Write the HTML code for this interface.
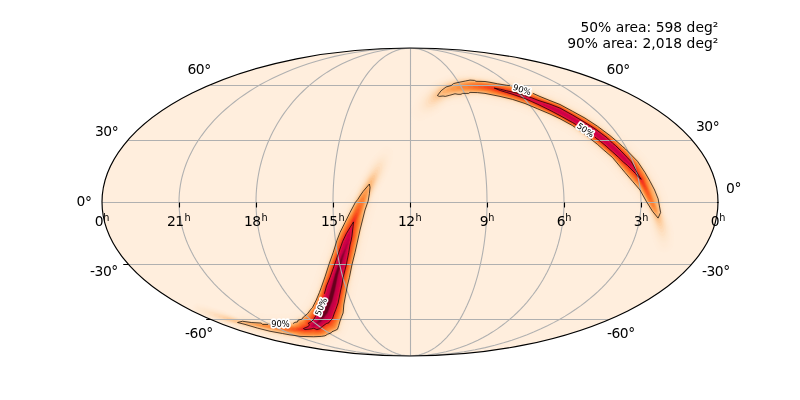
<!DOCTYPE html>
<html><head><meta charset="utf-8"><title>sky map</title>
<style>
html,body{margin:0;padding:0;background:#fff;}
body{width:800px;height:400px;overflow:hidden;}
svg{display:block;}
text{font-family:"DejaVu Sans","Liberation Sans",sans-serif;font-size:13.89px;fill:#000;}
.cl text,.cl{font-size:8.33px;}
</style></head><body>
<svg width="800" height="400" viewBox="0 0 800 400">
<defs>
<clipPath id="sky"><ellipse cx="410" cy="202" rx="308" ry="154"/></clipPath>
<filter id="sm" x="-5%" y="-5%" width="110%" height="110%"><feGaussianBlur stdDeviation="0.4"/></filter>
</defs>
<rect width="800" height="400" fill="#fff"/>
<ellipse cx="410" cy="202" rx="308" ry="154" fill="#ffeedd"/>
<g clip-path="url(#sky)">
<g filter="url(#sm)">
<path d="M665.25 252.51 L662.5 252.48 L659.75 251.6 L657.5 250.06 L655.81 248 L653.09 241.5 L651.34 236.25 L649.65 230 L647.68 221.5 L643.28 215.5 L637.53 206.25 L631.96 196.25 L631.08 195 L604.92 164.25 L591.09 152.25 L579.86 143.25 L567 133.94 L557 128.53 L547 123.66 L520.95 112.75 L510 109.29 L498.61 106.5 L483.62 103.5 L476.25 102.51 L473.25 102.5 L470 103.35 L465.25 103.52 L462 104.19 L455.5 104.15 L447.75 106.23 L446.58 106.75 L445.25 107.66 L439 112.85 L433.5 116.08 L429.25 117.81 L426.39 118.5 L424.25 119.88 L422.5 120.6 L420.25 120.95 L417.75 120.67 L415.11 119.5 L413 117.58 L412.12 116.25 L411.57 115 L411.05 112.25 L411.17 110.5 L411.66 108.75 L413.5 105.61 L414.11 103 L414.91 101 L417.13 97.25 L420.75 92.3 L425.5 87.56 L431 83.15 L434 80.96 L435.75 79.93 L444.75 76.12 L451.75 73.6 L467.75 70.19 L471.75 70.06 L476.25 70.64 L478.75 71.23 L486.5 71.56 L489 71.9 L506.5 75.02 L512 75.69 L514.5 76.4 L536.75 84.17 L543.97 87.25 L563 94.87 L567.5 97.1 L590.25 109.44 L603.75 118.36 L615.75 127.29 L620.75 131.45 L632 141.39 L638.5 147.9 L645.71 155.5 L653.56 167.25 L659.15 177 L664.13 187 L667.71 196.25 L670.42 211 L670.42 213.75 L669.85 217 L672.89 226.25 L674.09 234.5 L674.09 238 L673.59 241.75 L673.54 244 L673.19 245.75 L672.6 247.25 L671.28 249.25 L669.5 250.86 L667.5 251.93 L665.25 252.51Z" fill="#ffeddb"/>
<path d="M664.75 250.52 L662.5 250.4 L660.5 249.69 L658.75 248.43 L657.44 246.75 L656.35 244 L654.59 240.75 L652.63 235.5 L650.63 228.75 L648.5 219.37 L648.01 218 L645.61 214.75 L640.29 206.25 L633.98 195 L632.91 193.5 L606.75 162.72 L592.7 150.5 L581.46 141.5 L568.25 131.93 L558.23 126.5 L547.96 121.5 L521.68 110.5 L510.61 107 L499.25 104.22 L484 101.17 L476.5 100.15 L472.75 100.14 L469.75 100.99 L465 101.14 L461.75 101.83 L455.75 101.87 L451.94 102.75 L447.61 104.25 L444.11 106.75 L438.25 111.41 L433 114.39 L428 116.16 L424.25 116.64 L422.75 117.5 L421.5 117.97 L420.25 118.15 L418.75 118.02 L416.79 117.25 L415.25 115.91 L414.18 114 L413.85 112 L414.18 110 L415.44 107.5 L415.62 105 L416.15 103 L416.78 101.5 L418.84 97.75 L422.06 93.25 L427 88.12 L434 82.57 L436.5 81.02 L445.75 77.12 L456.25 74.36 L458.5 73.93 L463.52 73.5 L468.5 72.47 L471.5 72.42 L475.75 72.96 L478.25 73.59 L486.25 73.92 L488.5 74.22 L506.25 77.38 L511.5 78.01 L513.75 78.64 L536 86.42 L542.6 89.25 L562 97.02 L566.25 99.12 L588.75 111.29 L602.25 120.2 L614.25 129.12 L619.25 133.28 L630.26 143 L636.75 149.49 L643.87 157 L651.56 168.5 L657 178 L661.87 187.75 L665.33 196.5 L668.03 211 L667.97 215.5 L669.61 220 L671.31 225.5 L672.2 230.75 L672.57 235 L672.47 237.5 L672.16 239.75 L671.59 242 L671.45 244.25 L671.03 245.75 L670 247.59 L668.5 249.07 L666.75 250.03 L664.75 250.52Z" fill="#ffecda"/>
<path d="M664.75 249 L663.5 249.03 L662.25 248.79 L661 248.25 L659.96 247.5 L658.9 246.25 L657.92 244 L656.09 241.25 L653.91 236.25 L651.92 230.25 L648.5 216.71 L641.39 205.5 L635 194.09 L634 192.72 L607.67 161.75 L593.5 149.43 L583.5 141.42 L569 130.82 L559.19 125.5 L548.43 120.25 L522.14 109.25 L511.08 105.75 L499.25 102.86 L484.25 99.86 L476.75 98.83 L472.25 98.83 L469.25 99.72 L464.5 99.83 L462.25 100.44 L457.75 100.67 L452.87 101.5 L447.5 103.29 L443.25 106.25 L437.75 110.48 L435 112.12 L432.25 113.47 L426.75 115.06 L425 115.15 L422.75 114.89 L420.75 115.54 L419.25 115.54 L418 115.02 L417.17 114.25 L416.52 113 L416.39 111.75 L417.09 109.5 L416.83 106.5 L417.21 104 L417.85 102.25 L420.16 97.75 L423.21 93.5 L427.93 88.5 L434.75 83.06 L437 81.7 L446 77.89 L457.25 74.94 L459 74.68 L465.5 74.31 L469 73.75 L471.5 73.75 L475.75 74.31 L478 74.92 L486 75.24 L488.5 75.56 L506.25 78.73 L511.25 79.31 L513.25 79.88 L535.5 87.65 L542.14 90.5 L561.5 98.25 L565.75 100.36 L588 112.39 L601.5 121.29 L613.5 130.22 L618.34 134.25 L629.38 144 L642.77 157.75 L650.46 169.25 L655.75 178.5 L660.64 188.25 L664.02 196.75 L666.65 210.75 L666.83 214.5 L669.37 221.75 L670.62 226.25 L670.97 228.25 L671.38 232.25 L671.48 236.25 L671.13 239 L670.12 242.25 L669.79 244.75 L669.1 246.25 L668 247.53 L666.5 248.51 L664.75 249Z" fill="#ffecd9"/>
<path d="M665.25 247.52 L664.25 247.69 L663 247.59 L662 247.25 L661 246.61 L660.2 245.75 L659.18 243.75 L657.67 242 L656.72 240.5 L654.63 236 L652.43 229.75 L648.75 215.88 L647.75 214 L641.39 203.75 L635.7 193.5 L634.58 192 L608.25 161.05 L594.09 148.75 L582.85 139.75 L569.39 130 L559.21 124.5 L548.75 119.41 L522.73 108.5 L511.25 104.86 L499.56 102 L484.5 98.98 L476.75 97.92 L472 97.95 L469.25 98.81 L464.25 98.99 L462 99.56 L458.75 99.84 L452.5 100.97 L447 102.83 L437.5 109.68 L432.75 112.28 L430.5 113.14 L427 113.93 L425.25 114.07 L423.75 113.88 L421.75 113.12 L420 111.88 L418.75 109.99 L418.02 107.75 L417.97 105.75 L418.38 103.75 L419.81 100.25 L421.17 97.75 L424.03 93.75 L428.41 89 L435 83.66 L437.5 82.16 L446.25 78.45 L457.25 75.54 L459 75.27 L469.25 74.6 L471.5 74.64 L475.5 75.17 L478.14 75.75 L482.5 76.09 L486 76.14 L488.25 76.43 L505.75 79.56 L511 80.19 L512.75 80.66 L535 88.42 L541.6 91.25 L561.25 99.12 L565.25 101.11 L587.5 113.14 L601 122.04 L612.75 130.78 L617.75 134.93 L628.5 144.4 L641.82 158 L649.86 170 L655.14 179.25 L659.64 188.25 L663.07 196.75 L665.57 209.75 L666 213.75 L668.15 219.75 L670.1 227 L670.53 230.75 L670.72 235 L670.25 238.75 L669.7 240.5 L668.88 242.25 L668.52 244.25 L668.12 245.25 L667 246.61 L665.25 247.52Z" fill="#ffebd7"/>
<path d="M664.25 246.27 L663 246.12 L661.75 245.39 L660.45 243.5 L658.34 241.5 L657.05 239.5 L655.11 235.5 L652.9 229.5 L651.12 223.5 L649.48 216.75 L648.5 214.32 L647.25 211.92 L641.87 203.25 L636.25 193.11 L635.23 191.75 L620.63 174.75 L608.9 160.75 L593.25 147.21 L582.32 138.5 L569.85 129.5 L559.69 124 L548.92 118.75 L523.25 107.98 L511.53 104.25 L499.5 101.31 L484.25 98.26 L477 97.28 L471.75 97.38 L469.25 98.14 L464.25 98.44 L452.34 100.5 L446.75 102.37 L437.5 108.9 L432.75 111.48 L429.25 112.63 L426 113.09 L424 112.95 L422.25 112.28 L420.63 111 L419.5 109.32 L418.96 107.5 L418.92 105.75 L419.26 104 L420.42 100.75 L422.01 97.75 L424.66 94 L428.75 89.47 L435.25 84.11 L437.5 82.72 L446.5 78.88 L457.5 75.97 L460.25 75.66 L471 75.19 L482.5 76.74 L486 76.8 L488.25 77.11 L505.83 80.25 L511 80.86 L512.75 81.36 L534.75 89.04 L541.67 92 L560.75 99.63 L565 101.73 L587.25 113.77 L600.5 122.51 L612.5 131.43 L617.39 135.5 L628 144.85 L641.37 158.5 L649.38 170.5 L654.52 179.5 L658.9 188.25 L662.37 196.75 L663.35 201.25 L665.37 213.25 L667.67 219.75 L669.53 227 L669.92 230.75 L670.02 235 L669.44 238.75 L668.78 240.5 L667.43 242.75 L666.75 244.79 L665.75 245.77 L664.25 246.27Z" fill="#ffead6"/>
<path d="M664.5 243.26 L663.25 243.33 L660.5 242.18 L659 240.84 L657.58 238.75 L655.63 235 L653.59 229.75 L651.61 223.5 L649.81 216.5 L648 212.19 L642.45 203 L636.78 192.75 L635.5 191.08 L621.25 174.5 L609.3 160.25 L594.92 147.75 L584.93 139.75 L570.24 129 L560.1 123.5 L549.34 118.25 L523.07 107.25 L511.75 103.66 L499.9 100.75 L484.95 97.75 L479 96.89 L476.5 96.65 L471.5 96.89 L469 97.54 L463.77 98 L452.5 99.92 L446.5 101.87 L437.25 108.23 L432.75 110.62 L429 111.79 L426 112.01 L424.5 111.89 L422.75 111.25 L421.49 110.25 L420.5 108.75 L420.03 107 L420.09 105 L420.78 102.25 L421.67 100 L422.9 97.75 L425.54 94 L429.25 89.82 L435.5 84.6 L437.75 83.2 L446.75 79.34 L457.5 76.48 L461 76.1 L470.75 75.67 L482.75 77.32 L486 77.44 L488 77.71 L498 79.58 L507 81.08 L510.75 81.46 L512.25 81.86 L534.5 89.62 L541.23 92.5 L560.75 100.32 L564.75 102.31 L587 114.35 L600.25 123.1 L612 131.84 L617 136 L627.75 145.47 L640.75 158.75 L648.65 170.5 L653.94 179.75 L658.33 188.5 L661.78 197 L662.25 198.75 L664.73 212.75 L667.16 219.75 L668.57 225.25 L669.05 227.75 L669.29 231.25 L669.25 235.25 L668.94 237.25 L668.32 239.25 L667.5 240.76 L666.25 242.08 L664.5 243.26Z" fill="#feead4"/>
<path d="M663.5 242.01 L661.75 241.73 L660 240.62 L658.75 239.18 L656.8 236 L653.57 228.25 L651.67 222.25 L650.15 216.5 L648 211.32 L647 209.4 L642.87 202.75 L637.2 192.5 L636 190.92 L621.5 174.05 L609.75 159.99 L595.08 147.25 L583.84 138.25 L570.36 128.5 L560.19 123 L549.42 117.75 L524 107.07 L512 103.22 L499.5 100.16 L484.5 97.17 L477.25 96.23 L471.25 96.53 L469 97.04 L461.25 97.94 L452.5 99.46 L446.72 101.25 L441.75 104.38 L437.5 107.36 L434.75 108.93 L430.75 110.59 L429 110.99 L427.5 111.09 L425 110.89 L423.28 110.25 L422 109.09 L421.23 107.5 L421.02 105.75 L421.46 102.75 L422.35 100.25 L423.68 97.75 L426.09 94.25 L429.55 90.25 L435.75 84.99 L438 83.59 L446.75 79.81 L457.75 76.86 L464.25 76.31 L471 76.08 L480.75 77.31 L483.25 77.79 L488 78.2 L498 80.08 L507 81.57 L510.75 81.96 L512.25 82.37 L534.5 90.14 L541.16 93 L560.5 100.74 L564.25 102.59 L586.5 114.62 L599.75 123.34 L611.75 132.26 L616.75 136.42 L627.33 145.75 L640.5 159.21 L648.38 171 L653.52 180 L657.91 188.75 L661.36 197.25 L664.24 212.5 L666.65 219.5 L667.91 224.5 L668.51 227.75 L668.69 230.5 L668.55 235.25 L668.29 236.75 L667.5 239 L666.5 240.51 L665 241.63 L663.5 242.01Z" fill="#fee9d3"/>
<path d="M664.5 240.75 L663.5 240.99 L662.5 240.93 L660.75 240.12 L659.37 238.75 L657.33 235.75 L656.1 233.25 L653.93 228 L652.11 222.5 L650.37 216.25 L648 210.61 L647.25 209.09 L643.17 202.5 L637.51 192.25 L636.25 190.6 L621.76 173.75 L610 159.68 L595.4 147 L584.15 138 L570.5 128.13 L560.56 122.75 L549.75 117.47 L524.25 106.75 L511.77 102.75 L499.45 99.75 L484.5 96.77 L477.75 95.91 L471 96.22 L469 96.65 L461.65 97.5 L452.5 99.06 L446.5 100.9 L441.49 104 L437.75 106.57 L435 108.14 L431 109.81 L429.25 110.22 L427.75 110.33 L425.75 110.05 L424 109.38 L422.97 108.5 L422.2 107 L421.97 104.75 L422.21 102.75 L422.96 100.5 L424.37 97.75 L426.75 94.25 L429.96 90.5 L436 85.32 L438.25 83.92 L447 80.13 L457.5 77.3 L464 76.67 L471 76.4 L480.75 77.59 L483.75 78.19 L488 78.6 L505.62 81.75 L510.75 82.35 L512.5 82.86 L534.25 90.46 L540.75 93.25 L560.5 101.17 L586.5 115.07 L599.75 123.82 L611.5 132.57 L616.5 136.73 L627.03 146 L640.23 159.5 L647.93 171 L653.21 180.25 L657.6 189 L660.94 197.25 L661.36 198.75 L663.77 212 L665.88 218.25 L666.92 222 L668.1 228.5 L668.16 232 L667.86 235.5 L667.31 237.5 L666.54 239 L665.5 240.17 L664.5 240.75Z" fill="#fee8d1"/>
<path d="M664.25 239.78 L662.75 239.96 L661 239.25 L659.69 238 L657.5 234.94 L654.34 228 L652.36 222.25 L650.64 216.25 L647.75 209.44 L643.41 202.25 L637.75 192.02 L636.5 190.39 L622.19 173.75 L610.25 159.46 L595.61 146.75 L584.36 137.75 L570.5 127.75 L560.78 122.5 L549.5 117 L524.25 106.4 L512.08 102.5 L499.75 99.48 L484.75 96.48 L478.75 95.65 L471 95.93 L468.75 96.36 L461.25 97.23 L452.29 98.75 L446.25 100.6 L437.5 106.16 L434.75 107.67 L431 109.15 L429.25 109.53 L427.75 109.6 L426 109.27 L424.5 108.49 L423.4 107.25 L422.86 105.75 L422.74 104 L423.1 102 L423.96 99.75 L425.3 97.25 L427.35 94.25 L430.06 91 L436.36 85.5 L438.25 84.33 L446 80.89 L447.75 80.27 L458.5 77.44 L469.5 76.63 L472.75 76.88 L480.75 77.84 L484 78.51 L488 78.93 L505.5 82.06 L510.75 82.68 L513 83.37 L534.25 90.81 L541.11 93.75 L560.25 101.41 L564.25 103.41 L586.25 115.3 L599.5 124.04 L611.25 132.79 L616.25 136.94 L626.82 146.25 L639.81 159.5 L647.54 171 L652.84 180.25 L657.36 189.25 L660.91 198.25 L663.34 211.5 L666.12 220.25 L667.07 224.5 L667.61 228 L667.62 232.25 L667.09 236 L666 238.33 L665.25 239.16 L664.25 239.78Z" fill="#fee7cf"/>
<path d="M663.75 237.83 L662.5 237.93 L661 237.22 L659.25 235.61 L657.75 233.37 L654.7 227 L652.88 222 L651.03 216 L647.75 208.42 L643.85 202 L638.25 191.86 L636.84 190 L622.5 173.32 L610.52 159 L596 146.41 L584.56 137.25 L571 127.45 L560.93 122 L549.75 116.55 L524.5 105.95 L512.2 102 L499.97 99 L484.98 96 L479 95.16 L471 95.44 L462.5 96.49 L452.25 98.13 L446 99.99 L435.25 106.36 L431.5 107.81 L428.5 108.23 L427 107.98 L425.62 107.25 L424.75 106.23 L424.23 104.75 L424.21 103 L424.6 101.25 L425.39 99.25 L426.57 97 L428.41 94.25 L430.63 91.5 L437 85.83 L438.5 84.93 L447.25 81.06 L457.75 78.18 L460 77.85 L470 77.13 L480.25 78.2 L506.75 82.79 L510.75 83.21 L530.25 89.92 L534.25 91.36 L540.5 94.06 L560.25 101.97 L585.75 115.6 L599 124.32 L611 133.24 L616 137.4 L626.5 146.65 L639.5 159.93 L647.09 171.25 L652.4 180.5 L656.91 189.5 L660.37 198.25 L662.75 211.2 L665.56 220.5 L666.35 224.5 L666.78 228 L666.68 231.75 L666.07 234.75 L665.25 236.61 L664.5 237.41 L663.75 237.83Z" fill="#fee5cb"/>
<path d="M663.5 235.8 L662.25 235.97 L660.75 235.35 L659.35 234 L658 232 L656.25 228.85 L655.06 226.25 L653.14 221.25 L651.46 216 L648 208.13 L644.17 201.75 L638.34 191.25 L622.75 173 L612.15 160.25 L610.75 158.66 L596.13 146 L584.56 136.75 L571.02 127 L561.3 121.75 L550.04 116.25 L524.5 105.52 L512 101.53 L499.75 98.55 L484.75 95.55 L479.25 94.78 L470.5 95.05 L468.75 95.43 L459.25 96.46 L451.5 97.77 L445.25 99.67 L437.5 104.26 L434.75 105.63 L431.75 106.63 L429.25 106.93 L427.75 106.64 L426.66 106 L425.91 105 L425.56 103.75 L425.58 102.25 L425.92 100.75 L426.8 98.5 L427.85 96.5 L431.09 92 L437.4 86.25 L439 85.33 L447.5 81.55 L458 78.64 L462 78.17 L470.25 77.58 L480.5 78.59 L505.5 82.99 L510.75 83.61 L530.25 90.34 L534 91.69 L540.53 94.5 L560.25 102.41 L585.75 116.06 L598.75 124.63 L610.75 133.55 L615.75 137.71 L626.25 146.96 L639.25 160.25 L646.62 171.25 L652.08 180.75 L656.35 189.25 L659.96 198.25 L662.36 211.25 L664.88 220 L665.85 225.75 L666.02 229 L665.62 232.25 L664.75 234.55 L664.22 235.25 L663.5 235.8Z" fill="#fee2c5"/>
<path d="M662.5 232.34 L661.5 232.41 L660.25 231.73 L658.25 229.42 L657 227.54 L654.6 222.5 L652.1 215.75 L648.25 207.36 L644.7 201.5 L638.75 190.81 L623.3 172.75 L611.5 158.57 L596.5 145.55 L585.2 136.5 L571.32 126.5 L561.6 121.25 L550.34 115.75 L524.78 105 L512.28 101 L500.02 98 L485 95 L479.5 94.21 L470.75 94.31 L468.5 94.88 L463.5 95.1 L461.25 95.63 L457 95.94 L451.5 96.81 L444.79 98.75 L440.5 101.15 L435.25 103.71 L433.25 104.29 L431.25 104.47 L430 104.28 L429.03 103.75 L428.46 103 L428.17 102 L428.21 100.5 L428.53 99 L430.01 95.75 L432.07 92.75 L438 87.05 L439.25 86.31 L447.75 82.43 L458.25 79.46 L463.25 78.87 L470.25 78.3 L480.5 79.2 L505 83.5 L510.75 84.22 L530 90.87 L533.75 92.22 L540.21 95 L560 102.93 L585.5 116.59 L598.5 125.17 L610.5 134.09 L615.25 138.05 L625.98 147.5 L638.7 160.5 L645.92 171.25 L651.69 181.25 L655.82 189.5 L659.42 198.5 L662 212.54 L663.63 218.75 L664.44 223.75 L664.55 226.75 L664.26 229.5 L663.5 231.44 L662.5 232.34Z" fill="#feddbc"/>
<path d="M661.75 228.85 L660.75 228.95 L659.5 228.33 L658.25 227.05 L657 225.19 L655 221.34 L652.77 215.75 L648.69 207.25 L645.05 201.25 L639.24 190.75 L623.64 172.5 L611.78 158.25 L596.75 145.21 L585.5 136.21 L571.71 126.25 L562.01 121 L550.26 115.25 L524.75 104.54 L512.5 100.63 L500.25 97.62 L485 94.56 L479.5 93.78 L477.25 93.62 L470.75 93.72 L468.25 94.47 L463.5 94.56 L461 95.22 L456.25 95.31 L451.72 96 L444.5 97.91 L440.25 100.08 L436.75 101.59 L434.75 102.21 L433 102.37 L432 102.17 L431.25 101.74 L430.68 101 L430.41 100 L430.71 97.75 L432.1 94.75 L432.95 93.5 L434.98 91.25 L438.75 87.61 L448.25 83.12 L458.75 80.11 L469.25 78.92 L470.75 78.89 L480.75 79.75 L490.75 81.33 L497.5 82.68 L506.5 84.17 L510.5 84.59 L529.5 91.14 L533.75 92.67 L540.33 95.5 L560 103.39 L585.25 116.93 L598.5 125.68 L611.75 135.63 L625.91 148 L631.75 153.85 L633 155.33 L638.14 160.5 L638.91 161.5 L646.06 172.25 L651.34 181.5 L655.71 190.25 L658.9 198.25 L661.15 210.25 L661.6 213.5 L662.75 218.5 L663.21 221.75 L663.31 224.5 L663.09 226.5 L662.5 228.1 L661.75 228.85Z" fill="#fed8b2"/>
<path d="M660.75 226.07 L659.75 226.01 L658.75 225.33 L657.75 224.18 L656.25 221.9 L654.87 219.25 L653.28 215.5 L648.98 207 L645.32 201 L639.49 190.5 L623.86 172.25 L612 158.01 L597 145 L586.99 137 L571.88 126 L562.19 120.75 L550.46 115 L525 104.28 L512.5 100.28 L500.25 97.28 L483.5 93.97 L477.5 93.23 L471 93.26 L470 93.42 L468.25 94.11 L463.25 94.19 L461 94.86 L455.75 94.76 L453.87 95 L445.75 97.11 L443.75 97.32 L438.75 99.51 L436.25 100.22 L434.75 100.38 L433.96 100.25 L433.25 99.88 L432.59 98.75 L432.67 97 L433.55 94.75 L436.76 90.75 L438.69 88.75 L439.74 88 L448 83.98 L458.25 80.9 L470.25 79.3 L480.5 80.16 L487.5 81.14 L504.94 84.25 L510.5 84.93 L533.25 92.82 L540.09 95.75 L559.75 103.61 L585 117.15 L598.25 125.88 L611.5 135.83 L625.71 148.25 L638.33 161.25 L645.66 172.25 L650.95 181.5 L655.43 190.5 L658.52 198.25 L660.83 210.5 L661.11 212.25 L661.11 214 L662.09 219.75 L662.17 222.25 L661.99 224 L661.5 225.39 L660.75 226.07Z" fill="#fed2a7"/>
<path d="M659.75 223.29 L659 223.14 L658.25 222.62 L657.25 221.59 L656.25 220.19 L649.37 207 L645.7 201 L639.68 190.25 L624.24 172.25 L612.25 157.9 L597.1 144.75 L592 140.67 L583.83 134.25 L571.92 125.75 L562.23 120.5 L550.51 114.75 L525.01 104 L512.5 100 L500.27 97 L483.5 93.66 L477.5 92.89 L471 92.88 L470 93.02 L468.25 93.78 L463 93.87 L460.75 94.55 L454.75 94.33 L445.75 96.7 L443 96.75 L439 98.15 L436.75 98.45 L435.5 98.19 L435 97.78 L434.72 97.25 L434.7 96 L435.47 94.25 L437.81 91 L439.25 89.39 L440.13 88.75 L448.25 84.64 L458.5 81.47 L470.25 79.66 L480.5 80.56 L487.5 81.44 L506.25 84.74 L510.5 85.22 L533.25 93.1 L540.01 96 L559.75 103.89 L584.75 117.3 L598.25 126.2 L611.5 136.16 L625.5 148.41 L631.25 154.17 L638.17 161.5 L645.48 172.5 L650.74 181.75 L655.07 190.5 L658.16 198.25 L660.76 212.25 L660.56 214 L661.1 218 L661.11 220.5 L660.63 222.5 L660.25 223.05 L659.75 223.29Z" fill="#fdcb9b"/>
<path d="M658.75 220.76 L657.5 220.09 L656 218.17 L640 190.16 L624.37 172 L612.41 157.75 L597.25 144.58 L592.15 140.5 L583.85 134 L571.87 125.5 L562.18 120.25 L550.5 114.51 L531.25 106.35 L522.79 103 L512.75 99.83 L507.5 98.49 L500.3 96.75 L485.25 93.64 L477.25 92.54 L470.5 92.53 L468.25 93.39 L463 93.48 L460.5 94.18 L458 94.15 L455 93.8 L445.75 96.26 L445 96.33 L443 96.09 L439 96.78 L437.75 96.5 L437.04 95.75 L437.11 94.5 L437.91 92.75 L439.28 90.75 L440.25 89.74 L448.5 85.29 L454.25 83.26 L458.75 82 L470 80.05 L480.25 80.9 L487.25 81.7 L506.25 84.99 L510 85.37 L533.25 93.35 L539.75 96.14 L559.25 103.89 L562.75 105.62 L584.75 117.56 L598 126.28 L611.25 136.23 L625.5 148.73 L637.86 161.5 L645.32 172.75 L650.4 181.75 L654.75 190.62 L657.76 198.25 L660.34 212.25 L659.99 214.25 L660.21 217.25 L660.11 219 L659.67 220.25 L659.25 220.66 L658.75 220.76Z" fill="#fdc590"/>
<path d="M658.5 218.35 L657.75 218.35 L656.75 217.57 L653.25 212.51 L640.31 190 L624.71 172 L612.5 157.53 L597.25 144.31 L592.25 140.32 L583.83 133.75 L572.21 125.5 L562.08 120 L550.37 114.25 L525.25 103.61 L512.25 99.46 L500.5 96.54 L485.5 93.35 L478 92.18 L470.25 92.03 L468 92.82 L462.75 92.82 L460.25 93.47 L455 93.04 L445.25 95.21 L443.25 94.92 L441 95.04 L440 94.88 L439.68 94.5 L439.49 93.5 L439.7 92.5 L440.17 91.5 L440.73 90.75 L441.39 90.25 L447.67 86.5 L454 84.04 L459.18 82.5 L470 80.58 L480.25 81.25 L487.15 82 L506.25 85.22 L510 85.62 L533 93.5 L539.75 96.37 L559.25 104.1 L562.75 105.84 L584.5 117.65 L597.75 126.35 L611.25 136.49 L625.25 148.79 L637.56 161.5 L645.01 172.75 L650.04 181.75 L654.25 190.64 L657.23 198.5 L659.51 212 L659.25 216.75 L659 217.74 L658.5 218.35Z" fill="#fdbc7f"/>
<path d="M657.75 216.04 L657.25 216.08 L656.5 215.6 L654.5 213.37 L653 211.26 L643.75 194.61 L640.7 189.75 L633.92 182.25 L612.74 157.5 L597.5 144.25 L592.25 140.06 L584 133.66 L572.09 125.25 L561.95 119.75 L548.75 113.35 L525.25 103.38 L512 99.16 L500.5 96.28 L484 92.57 L480 91.9 L469.75 91.42 L467.5 91.69 L462.25 91.7 L456 92.07 L450.5 92.48 L444.75 93.16 L443.25 93.03 L442.55 92.75 L442.19 92.25 L442.42 91.5 L444.22 89.75 L447.18 87.75 L449 86.72 L452.13 85.5 L459.25 83.08 L469.75 81.25 L479.75 81.55 L485.25 82.14 L492.5 83.05 L506 85.42 L510 85.87 L533 93.72 L539.52 96.5 L559.25 104.3 L562.5 105.9 L584.5 117.88 L597.75 126.57 L611 136.53 L625.15 149 L630.64 154.5 L637.44 161.75 L644.75 172.88 L646.98 176.75 L649.97 182.5 L653.53 191 L656.11 199.25 L656.75 204.35 L658.19 211 L658.4 214.5 L658.17 215.5 L657.75 216.04Z" fill="#fdb26e"/>
<path d="M657 213.82 L656.25 213.82 L655.25 213.16 L654 211.8 L652.75 210.04 L649.4 204.25 L643 192.26 L641.25 189.51 L634.25 182.11 L612.79 157.25 L599.29 145.5 L592.49 140 L584.08 133.5 L572.25 125.17 L562.25 119.73 L548.75 113.15 L525.25 103.14 L512.75 99.11 L500.75 96.06 L490.25 93.69 L484.25 92.01 L482 91.64 L469.75 90.91 L460.25 91.02 L454 91.44 L448 91.56 L446.5 91.24 L446.19 90.75 L446.32 90.25 L447.42 89 L449.25 87.67 L452.35 86.25 L456.89 84.5 L459.08 83.75 L461.75 83.14 L470 81.73 L480.75 81.95 L493.74 83.5 L506 85.67 L509.75 86.1 L533 93.96 L539.5 96.72 L559 104.38 L562.5 106.09 L584.32 118 L597.69 126.75 L610.97 136.75 L625.1 149.25 L630.5 154.69 L637.11 161.75 L644.6 173.25 L647.54 178.5 L649.61 183 L652.61 191.5 L657.03 208.5 L657.55 212 L657.39 213.25 L657 213.82Z" fill="#fda860"/>
<path d="M656.25 212.13 L655.5 212.11 L654.5 211.38 L652 208.09 L641.5 188.97 L634.65 182 L613 157.17 L599.5 145.4 L593.77 140.75 L584.25 133.41 L572.25 125.01 L560.5 118.66 L549 113.07 L525.25 102.89 L513 98.92 L501 95.83 L491.25 93.54 L484.29 91.5 L480 91.05 L470 90.46 L460.25 90.34 L453.25 90.47 L450.81 90 L450.25 89.5 L450.31 89 L451.33 88 L453.02 87 L458.89 84.5 L464.5 83.12 L470.25 82.16 L480.75 82.26 L493.75 83.76 L506 85.94 L509.75 86.4 L532.75 94.11 L539.5 96.95 L559 104.57 L562.5 106.28 L584.36 118.25 L597.5 126.84 L609.75 135.98 L625 149.47 L630.25 154.77 L636.75 161.75 L645.37 175.25 L647.25 178.75 L648.82 182.5 L652.5 195.24 L656.16 207 L656.73 210.5 L656.63 211.5 L656.25 212.13Z" fill="#fd9b4e"/>
<path d="M655.25 209.53 L654.75 209.7 L653.75 209.08 L651.5 206.19 L648 200.12 L642.25 189.15 L641.25 187.62 L635 181.53 L629.84 175.5 L613.28 157 L599.75 145.17 L595.25 141.5 L585.25 133.82 L572.64 125 L562.5 119.43 L550.75 113.56 L525.5 102.61 L516.75 99.67 L509.5 97.57 L491.75 93.05 L486.38 91.25 L470 89.79 L462.25 89.44 L457.14 88.75 L456.32 88.25 L456.33 87.75 L457.36 86.75 L459.13 85.75 L463.46 84.25 L469.5 82.89 L475 82.65 L480.5 82.69 L493.75 84.17 L506 86.35 L509.75 86.86 L517.5 89.3 L532.5 94.39 L539.25 97.2 L559 104.85 L562.38 106.5 L584.25 118.54 L597.24 127 L609.5 136.13 L624.75 149.73 L630 155.05 L636.25 161.82 L643.86 173.75 L645.9 177.25 L646.83 179.25 L648.08 183 L649.5 188.54 L654.77 204.25 L655.5 207.75 L655.5 208.84 L655.25 209.53Z" fill="#fd8f41"/>
<path d="M654 207.14 L653.25 206.99 L652.5 206.32 L650.5 203.52 L647.25 197.89 L642.25 188.38 L641 186.43 L635.5 181.22 L630.25 175.11 L613.5 156.75 L599.78 144.75 L595.46 141.25 L585.5 133.67 L573 124.98 L562.5 119.18 L551 113.39 L531.75 104.87 L524.25 101.76 L513.25 98.19 L493 92.8 L487.88 91 L464.75 88.58 L463.25 88.25 L462.1 87.75 L461.67 87.25 L461.73 86.75 L462.53 86 L464.02 85.25 L469.25 83.68 L473.75 83.27 L479.75 83.12 L494.75 84.7 L510 87.4 L517.5 89.72 L532.25 94.68 L539.25 97.56 L559 105.13 L562.25 106.71 L584.5 119.05 L597 127.18 L609.25 136.3 L624.5 150 L629.75 155.34 L635.83 162 L643.5 174.19 L645.43 177.5 L646.09 179 L647.75 185.14 L651.86 196.75 L653.53 202 L654.31 205.5 L654.31 206.5 L654 207.14Z" fill="#fd8234"/>
<path d="M652.25 203.58 L651.75 203.35 L651 202.59 L649 199.72 L642.25 187.47 L640.5 184.74 L636 180.64 L630.93 174.75 L614.13 156.75 L604.27 148 L595.75 140.91 L586.5 133.95 L573.25 124.81 L562.75 118.97 L551.25 113.12 L532 104.47 L524.75 101.41 L513.25 97.65 L493.75 92.23 L489.5 90.7 L472.81 88.5 L468.14 87.25 L467.48 86.75 L467.49 86.25 L468.84 85.25 L471.49 84.5 L475.5 84 L480.5 83.78 L486.5 84.26 L494.75 85.22 L510 88.03 L517.25 90.2 L531.5 94.91 L539 97.94 L559.25 105.62 L571 111.9 L584.5 119.54 L596 126.94 L608.9 136.5 L624.25 150.45 L629.44 155.75 L634.7 161.5 L636.14 163.5 L644.99 178.25 L646.25 182.95 L649.54 191.75 L651.75 198.45 L652.59 202.25 L652.56 203.25 L652.25 203.58Z" fill="#fc752d"/>
<path d="M650.5 199.5 L649.5 198.8 L648 196.75 L641.75 185.75 L640.25 183.46 L636.5 180.05 L632.75 175.62 L626.6 169 L622 164.42 L614.75 156.72 L604.71 147.75 L595.94 140.5 L586.75 133.67 L573.5 124.64 L561.12 117.75 L551.5 112.86 L532 103.95 L525.25 101.08 L513.5 97.18 L499.25 93.14 L490 90.25 L481.35 89 L474.99 87.75 L473.23 87 L472.81 86.5 L472.83 86.25 L473.34 85.75 L474.67 85.25 L479.5 84.53 L484 84.61 L490 85.08 L495.25 85.82 L509.36 88.5 L522.5 92.41 L531.5 95.41 L538.75 98.32 L551 102.78 L559.75 106.21 L573.16 113.5 L583.24 119.25 L591 124.14 L596.75 127.93 L608.75 136.87 L623.86 150.75 L633.61 161 L635.59 163.75 L644.22 178.25 L645.22 181.75 L647.25 186.77 L650 194.95 L650.74 198.25 L650.75 199.13 L650.5 199.5Z" fill="#fb6825"/>
<path d="M648.75 195.31 L648.5 195.33 L648 194.94 L646.75 193.3 L640 182.21 L637 179.47 L633.25 175.03 L626.37 167.75 L622.4 164 L615 156.32 L605 147.38 L596.25 140.18 L587 133.4 L573.75 124.46 L561.25 117.46 L551.75 112.59 L532.25 103.56 L525.5 100.65 L516.75 97.64 L490.97 90 L480.79 88 L478.19 87 L477.89 86.5 L478.02 86.25 L478.99 85.75 L480.04 85.5 L484 85.29 L489.75 85.53 L495 86.29 L509.5 89.16 L517 91.24 L528.25 94.78 L559.75 106.59 L574 114.38 L583.25 119.74 L590.75 124.44 L595.5 127.5 L608.5 137.16 L616 143.95 L623.5 151.09 L632.94 161 L635.04 164 L638 169.25 L643.47 178.25 L646.54 186.25 L647.75 189.88 L648.75 193.63 L648.88 194.75 L648.75 195.31Z" fill="#fa5a22"/>
<path d="M646.5 190.77 L645 189.07 L640.5 181.98 L639.5 180.68 L637.25 178.63 L633.8 174.5 L626.75 167.15 L622.75 163.52 L615.34 156 L605.28 147 L596.42 139.75 L587.06 133 L573.94 124.25 L561.5 117.24 L552 112.33 L532.25 103.04 L525.5 100.12 L517 97.17 L504 93.21 L490 89.19 L484.82 88 L483.2 87.25 L483.07 86.75 L483.75 86.42 L485.25 86.16 L489.75 86.08 L500 87.71 L509.25 89.73 L516.5 91.66 L530.75 96.14 L538.5 99.19 L551 103.57 L560 107.08 L572.61 114 L582.75 119.92 L594.5 127.28 L608.25 137.44 L613.04 142 L615.75 144.29 L623.25 151.53 L632.48 161.25 L634.64 164.5 L640.14 174.25 L642.94 178.5 L646.25 187.28 L646.82 190 L646.75 190.73 L646.5 190.77Z" fill="#f84e1e"/>
<path d="M645.25 187.28 L644.75 187.22 L644 186.45 L639.5 179.91 L637.5 178.07 L633 172.84 L627 166.68 L623 163.16 L617.75 157.77 L608 148.94 L601.07 143 L594.32 137.75 L585.25 131.44 L574 124.04 L561.5 116.97 L553.75 112.91 L532.45 102.75 L525.75 99.83 L519.23 97.5 L510.57 94.75 L488.6 88.25 L487.32 87.75 L486.9 87.25 L488 86.79 L489.75 86.64 L495 87.2 L500.25 88.12 L514 91.41 L528 95.57 L538.39 99.5 L551 103.87 L559.21 107 L561.75 108.25 L573.75 114.97 L590.38 125 L595.08 128 L608 137.59 L612.84 142.25 L615.75 144.72 L623 151.79 L631.98 161.25 L634.27 164.75 L639.75 174.65 L642.51 178.5 L644.75 184.43 L645.24 186.25 L645.25 187.28Z" fill="#f64220"/>
<path d="M643.5 184.26 L642.25 183.05 L639.5 179.11 L638 177.81 L634.75 173.87 L627.5 166.5 L623.25 162.83 L617.99 157.5 L605.76 146.5 L600 141.71 L594.5 137.5 L585.25 131.12 L574.25 123.93 L561.75 116.83 L554.25 112.87 L544.5 108.07 L529.75 101.18 L525.5 99.35 L517.4 96.5 L494.48 89.5 L491.92 88.5 L491.13 88 L491.13 87.75 L494.75 87.59 L499.75 88.39 L517.75 92.81 L530.25 96.69 L538.25 99.8 L550.75 104.07 L559 107.19 L561.67 108.5 L572.42 114.5 L584.75 121.83 L594.25 127.77 L608 137.96 L612.75 142.59 L615.5 144.9 L622.75 152.03 L631.71 161.5 L633.92 165 L639.25 174.83 L640.75 177.11 L642.2 178.75 L643.51 182.5 L643.75 183.75 L643.5 184.26Z" fill="#f43821"/>
<path d="M642.5 182.2 L641.75 181.6 L639.75 178.83 L638.16 177.5 L635 173.66 L627.5 166.08 L623.5 162.72 L618.06 157.25 L606 146.42 L600 141.44 L594.51 137.25 L584.5 130.4 L574.5 123.9 L561.75 116.64 L554.25 112.66 L532.25 102.04 L525.75 99.2 L519.65 97 L496.45 89.75 L494.21 88.75 L494 88.25 L494.44 88 L495.25 87.99 L500 88.7 L519.5 93.57 L530.25 96.93 L538 99.93 L550.71 104.25 L559 107.39 L561.75 108.74 L572.25 114.61 L586 122.82 L594.25 128 L607.77 138 L612.5 142.64 L615.5 145.17 L622.66 152.25 L631.4 161.5 L633.61 165 L639 175.04 L640.62 177.5 L641.85 178.75 L642.64 181.25 L642.68 182 L642.5 182.2Z" fill="#f22f26"/>
<path d="M641.5 180.14 L641 179.81 L640.06 178.5 L638.5 177.39 L635.26 173.5 L627.54 165.75 L623.5 162.38 L618.25 157.12 L606 146.13 L600.25 141.36 L594.75 137.16 L584.5 130.17 L574.5 123.7 L561.75 116.43 L554.5 112.58 L532.25 101.79 L523.5 98.11 L517 95.87 L499.01 90.25 L496.58 89.25 L495.96 88.75 L497 88.59 L500.08 89 L519.29 93.75 L530 97.08 L538 100.17 L550.75 104.47 L558.78 107.5 L561.5 108.82 L572.1 114.75 L585.91 123 L594 128.07 L607.75 138.25 L612.5 142.93 L615.54 145.5 L624.09 154 L628.83 159 L631.31 161.75 L632.28 163.25 L638.75 175.21 L640.5 178 L641.5 179 L641.66 179.75 L641.5 180.14Z" fill="#ef262d"/>
<path d="M639.25 177.36 L638.75 177.08 L635.42 173.25 L627.67 165.5 L623.73 162.25 L618.47 157 L613.25 152.47 L608.5 148.04 L601.71 142.25 L594.75 136.88 L584.75 130.09 L574.5 123.48 L562 116.34 L554.5 112.34 L532.5 101.65 L523.5 97.85 L500.28 90.25 L498.75 89.49 L499.25 89.3 L500.75 89.5 L513.58 92.5 L526.75 96.25 L533 98.42 L538 100.41 L550.75 104.7 L558.85 107.75 L561.41 109 L572 114.93 L585.9 123.25 L594.27 128.5 L607.25 138.1 L612.25 143 L615.25 145.52 L623.77 154 L631.37 162.25 L633.29 165.5 L639.27 176.75 L639.42 177.25 L639.25 177.36Z" fill="#ec1e32"/>
<path d="M637.25 174.62 L627.8 165.25 L623.75 161.91 L618.5 156.68 L613.38 152.25 L606.5 145.92 L601.75 141.95 L594.75 136.57 L584.75 129.8 L574.75 123.37 L562 116.08 L554.75 112.21 L532.5 101.36 L523.75 97.66 L508.97 92.75 L505.13 91.25 L506.75 91.27 L514.42 93 L526.75 96.52 L533 98.69 L538 100.68 L550.25 104.78 L558.84 108 L561.38 109.25 L572 115.21 L593.83 128.5 L607.36 138.5 L612.25 143.34 L615.25 145.86 L623.66 154.25 L628.4 159.25 L630.87 162 L631.98 163.75 L637.25 173.89 L637.43 174.5 L637.25 174.62Z" fill="#e51639"/>
<path d="M634.75 171.16 L633.25 169.98 L627.95 164.75 L624 161.52 L618.75 156.29 L613.5 151.76 L606.5 145.32 L600.75 140.57 L595.25 136.37 L585 129.44 L572.75 121.62 L555 111.84 L532.75 100.97 L526 97.95 L518.33 95 L519 94.93 L521.27 95.5 L529.7 98 L537.75 101.08 L550.26 105.25 L559 108.55 L571.63 115.5 L593.79 129 L607 138.77 L612 143.71 L615 146.23 L623.28 154.5 L630.67 162.5 L634 168.6 L634.82 170.5 L634.94 171 L634.75 171.16Z" fill="#db0b41"/>
<path d="M631 165.93 L624.65 160.75 L619.36 155.5 L614.14 151 L607.25 144.65 L601.25 139.69 L595.5 135.33 L585.5 128.58 L573.25 120.76 L560.5 113.62 L543.53 105 L542.04 104 L543.77 104.25 L550 106.23 L558.25 109.31 L560.21 110.25 L571.25 116.44 L585 124.69 L593.5 130.02 L606.31 139.5 L611.39 144.5 L614.25 146.88 L622.5 155.13 L629.5 162.68 L630.75 164.75 L631.04 165.5 L631 165.93Z" fill="#cf0347"/>
<path d="M319.75 346.51 L317.5 346.72 L307.5 346.73 L304.25 346.48 L299 346.45 L293.5 345.49 L287.75 344.81 L268.25 341.15 L255.5 337.9 L235.25 332.33 L233 331.4 L231.24 330.25 L229.74 328.75 L228.3 326.5 L227.57 326 L215.25 322.66 L203.75 318.11 L195 314.04 L193.5 312.76 L192.58 311.25 L192.14 309.25 L192.4 307.25 L193.29 305.5 L194.75 304.12 L196.5 303.33 L198.5 303.15 L204 304.37 L212.25 306.63 L232.5 313.29 L233.5 313.3 L240.5 311.44 L243.5 311.29 L252.5 312.49 L262.5 313.11 L264 313.42 L266.25 314.33 L267.25 314.51 L283.5 313.79 L287.5 313.76 L289.75 313.51 L290.51 313.25 L293.25 311.24 L296.6 309.75 L300.1 306.75 L304 301.8 L307.45 295 L310.05 289 L315.48 273.75 L320.15 259.25 L323.73 249.25 L327.65 236.75 L330.36 229.5 L340.6 208.75 L346.38 197.75 L349.59 193.5 L352.79 188.5 L358.5 181.08 L361.85 174.25 L365.57 167.5 L369.35 161.5 L372.29 157.5 L375.01 154.5 L378.25 151.5 L380.31 150 L381.75 148.31 L382.75 147.48 L384.25 146.72 L385.75 146.37 L387.25 146.37 L388.75 146.72 L390.25 147.48 L391.5 148.58 L392.46 150 L393 151.5 L393.16 153.5 L392.63 156 L392.65 158.75 L392.29 161.25 L390.84 166.5 L388.39 173 L385.66 179 L380.75 188.41 L379.93 190.5 L379.35 195.75 L377.9 203 L374.54 213.25 L370.03 231.25 L364.71 255.25 L361.97 266.5 L359.46 279 L357.22 287.75 L353.98 305 L353.39 311.75 L352.71 315.5 L349.77 323.5 L347.35 331.5 L345.81 334.75 L343.81 337 L342 338.26 L338 340.21 L335.75 341.76 L331.75 343.48 L329 344.88 L327 345.58 L323 346.39 L319.75 346.51Z" fill="#ffeddb"/>
<path d="M318.5 344.28 L307.25 344.36 L304.5 344.12 L299 344.08 L293.75 343.14 L288 342.45 L268.75 338.84 L256.25 335.65 L236 330.08 L234.5 329.5 L233 328.62 L232 327.74 L230.83 326.25 L230.11 325.75 L225.25 324.64 L215.5 321.87 L204.5 317.38 L196 313.3 L194.56 312.25 L193.71 311 L193.29 309.5 L193.43 307.75 L194.15 306.25 L195.5 304.98 L197 304.37 L198.75 304.32 L205 305.65 L213.25 307.87 L225.25 311.6 L235 314.95 L236 314.95 L241.25 313.72 L243.75 313.67 L252.25 314.85 L262.25 315.47 L263.75 315.83 L265.75 316.75 L266.5 316.87 L287.75 316.12 L290.5 315.83 L291.89 315.25 L294.25 313.39 L297.75 311.93 L301.75 308.48 L305.91 303.25 L309.6 296 L312.25 289.88 L317.73 274.5 L322.39 260 L326 249.93 L329.89 237.5 L332.61 230.25 L342.61 210 L348.39 199 L351.5 194.91 L356.25 187.49 L359 182.75 L362.59 175.25 L365.38 170.25 L368.93 164.5 L372.29 159.75 L375.75 155.92 L380 152.44 L382.8 151 L384 149.86 L385 149.28 L386.25 148.99 L387.75 149.18 L388.75 149.68 L389.64 150.5 L390.22 151.5 L390.48 152.5 L390.32 154.75 L390.78 157 L390.84 159 L389.93 164.25 L387.93 170.5 L385.9 175.5 L383.08 181.5 L378.02 191.25 L377.33 193.25 L375.4 203.25 L372.25 212.64 L367.75 230.62 L362.4 254.75 L359.66 266 L357.15 278.5 L354.91 287.25 L353 296.78 L351.58 305 L351.03 311.5 L350.4 315 L347.5 322.82 L344.93 331.25 L343.75 333.57 L342 335.43 L340.5 336.38 L336.75 338.17 L334.25 339.88 L330.75 341.31 L328 342.73 L326.25 343.33 L322.75 344.03 L318.5 344.28Z" fill="#ffecda"/>
<path d="M317.75 343.01 L307.25 343.03 L304.75 342.8 L299.25 342.76 L294 341.82 L288.25 341.15 L269 337.53 L256.5 334.34 L236.5 328.84 L234.08 327.75 L232.21 326 L231.33 325.5 L226 324.37 L216.25 321.56 L208.25 318.34 L200.75 314.91 L196.25 312.52 L195.21 311.75 L194.63 311 L194.21 310 L194.08 309 L194.21 308 L194.79 306.75 L196 305.63 L197.25 305.15 L198.75 305.14 L205 306.35 L213.75 308.63 L226.75 312.59 L236.25 315.89 L237.5 315.93 L241.5 315.03 L243.75 315 L252 316.17 L259 316.49 L262.25 316.81 L266 318.2 L287.75 317.45 L290.75 317.18 L292.5 316.47 L295.25 314.37 L297.82 313.5 L298.5 313.1 L302.86 309.25 L307 304.04 L310.75 296.68 L313.5 290.34 L318.87 275.25 L323.63 260.5 L327.25 250.39 L331.13 238 L333.84 230.75 L343.85 210.5 L349.36 200 L353.25 194.52 L359.75 182.75 L363.14 175.75 L366.12 170.5 L369.61 165 L372.88 160.5 L376.75 156.41 L381 153.36 L382.25 152.78 L383.5 152.48 L385.25 152.4 L386.5 152.55 L387.25 153.07 L388.35 154.5 L389.04 155.75 L389.41 157 L389.55 159.75 L388.83 164.5 L387.07 170.25 L384.69 176.25 L381.88 182.25 L377.25 191.25 L376.25 193.58 L375.56 196 L374.09 203 L370.98 212.25 L366.41 230.5 L361.09 254.5 L358.3 266 L355.84 278.25 L353.55 287.25 L350.25 304.88 L349.72 311.25 L349.14 314.5 L346.25 322.36 L343.7 330.75 L342.7 332.75 L341.02 334.5 L336.09 337 L333.25 338.89 L330.25 340.07 L327.5 341.5 L325.75 342.09 L322.5 342.72 L317.75 343.01Z" fill="#ffecd9"/>
<path d="M318.5 342.03 L307.5 342.14 L304.75 341.89 L298.75 341.81 L294.25 340.95 L288.5 340.27 L269.75 336.77 L256.5 333.41 L236.5 327.9 L234.75 327.11 L233.09 325.75 L232 325.27 L226.5 324.15 L223.75 323.39 L216.75 321.29 L213 319.83 L203 315.4 L196.31 311.75 L195.5 311.03 L195.03 310.25 L194.79 309.25 L194.87 308.25 L195.69 306.75 L197 305.94 L198.25 305.78 L201 306.16 L207 307.37 L215.5 309.6 L228.75 313.6 L237 316.53 L238.25 316.65 L241.5 315.94 L243.75 315.91 L252 317.08 L262 317.69 L263.5 318.13 L265 318.97 L265.75 319.1 L288 318.35 L291 318.07 L293.25 317.09 L295.5 315.26 L298.9 314 L303.5 309.89 L307.75 304.55 L311.71 296.75 L314.31 290.75 L319.75 275.48 L324.41 261 L328 250.99 L331.91 238.5 L334.61 231.25 L344.6 211 L350.11 200.5 L353.25 195.89 L360.25 182.86 L364.87 173.75 L368.38 168 L371.85 163 L375.25 158.94 L378.5 156.14 L382.5 153.95 L384 153.7 L385.5 153.95 L386.5 154.48 L387.31 155.25 L387.93 156.25 L388.34 157.5 L388.53 159.75 L388.31 162.75 L387.89 165 L386.17 170.75 L383.91 176.5 L381.13 182.5 L376.75 191.14 L375 195.24 L374.45 197 L373.16 203 L370.05 212.25 L365.5 230.44 L360.17 254.5 L357.49 265.5 L354.92 278.25 L352.68 287 L350.75 296.67 L349.25 305.42 L348.84 311 L348.28 314.25 L345.5 321.77 L342.92 330.25 L341.95 332.25 L340.52 333.75 L335.56 336.25 L333 338.01 L325.75 341.15 L322.25 341.84 L318.5 342.03Z" fill="#ffebd7"/>
<path d="M319 341.28 L317.25 341.47 L307.5 341.47 L305 341.23 L298.75 341.14 L294.25 340.27 L288.5 339.6 L269.75 336.1 L257 332.86 L236.75 327.28 L235.25 326.63 L233.05 325.25 L225.75 323.66 L215.25 320.36 L205.5 316.1 L199 312.7 L196 310.58 L195.5 309.5 L195.56 308.25 L196.25 307.14 L197.5 306.5 L202.5 306.94 L208.25 308.12 L216 310.12 L228.75 313.89 L237.75 317.06 L239 317.15 L241.5 316.61 L243.25 316.54 L252 317.75 L259.25 318.08 L262.5 318.47 L264.75 319.63 L265.5 319.77 L269.25 319.77 L277.5 319.29 L281.75 319.27 L283.75 319.04 L288 319.02 L291.25 318.73 L293.75 317.6 L295.75 315.88 L299.25 314.63 L300.75 313.1 L304 310.33 L308.26 305 L312.25 297.17 L315 290.81 L320.27 276 L325.11 261 L328.75 250.83 L332.61 238.5 L335.13 231.75 L336.1 229.5 L345.1 211.5 L350.73 200.75 L353 197.27 L356.87 189.75 L360.5 183.25 L364.67 175 L368.17 169.25 L371.8 164 L375.25 159.87 L378.5 157.04 L382.5 155.11 L383.75 154.9 L385 155.1 L385.78 155.5 L386.56 156.25 L387.44 158.25 L387.63 162 L387.09 165.5 L385.57 170.75 L383.36 176.5 L380.63 182.5 L376.25 191.25 L374.02 196.5 L372.46 203 L369.49 211.75 L364.86 230.25 L359.6 254 L356.75 265.75 L354.35 277.75 L352 287 L348.75 304.33 L348.17 311 L347.59 314.25 L344.75 321.92 L342.3 330 L341.31 332 L340.08 333.25 L335.25 335.65 L332.75 337.39 L329.5 338.68 L327.25 339.9 L325.75 340.46 L322.25 341.17 L319 341.28Z" fill="#ffead6"/>
<path d="M318.25 340.75 L307.5 340.84 L305 340.61 L299 340.54 L294.5 339.67 L288.5 338.96 L269.75 335.45 L257 332.2 L237 326.7 L233.36 325 L226.5 323.56 L216.25 320.36 L208.25 316.89 L200.71 313 L196.93 310.25 L196.45 309.5 L196.45 308.5 L197 307.72 L198 307.35 L201 307.39 L204.5 307.85 L212.5 309.6 L223.5 312.63 L229.25 314.37 L238.25 317.52 L239.5 317.63 L241.75 317.21 L243.25 317.17 L251.75 318.36 L261.5 318.94 L262.75 319.22 L264.48 320.25 L265.25 320.39 L269.25 320.39 L271.25 320.17 L288 319.64 L291.5 319.35 L294 318.23 L295.5 316.8 L296.25 316.33 L299.5 315.3 L301 313.72 L304.48 310.75 L308.75 305.4 L312.75 297.59 L315.51 291.25 L321 275.82 L325.61 261.5 L329.25 251.32 L333.11 239 L336.32 230.5 L345.93 211.25 L351.31 201 L353 198.18 L357.33 189.75 L361 183.21 L364.37 176.5 L367.34 171.5 L370.16 167.25 L372.76 163.75 L375.5 160.6 L378 158.39 L380 157.18 L382.75 156.42 L384.29 156.5 L385 156.85 L385.75 157.62 L386.2 158.5 L386.58 160 L386.76 162.75 L386.18 166.25 L384.85 171 L382.57 177 L380.1 182.5 L376 190.8 L373.25 197.17 L371.88 202.75 L368.84 211.75 L364.25 230.1 L358.9 254.25 L356.22 265.25 L353.7 277.75 L351.41 286.75 L349.5 296.3 L347.96 305.25 L347.54 311 L347 314 L344.25 321.43 L341.63 330 L340.89 331.5 L339.69 332.75 L334.75 335.2 L333.25 336.39 L332.25 336.93 L329.49 338 L327 339.32 L325.5 339.88 L322.25 340.54 L318.25 340.75Z" fill="#feead4"/>
<path d="M318.25 340.26 L307.5 340.36 L305 340.12 L299 340.05 L294.5 339.18 L288.75 338.51 L270 335 L257.5 331.83 L237 326.19 L234 324.92 L226 323.15 L216.5 320.11 L209.25 316.93 L202.21 313.25 L200.31 312 L198.86 310.75 L198.14 309.75 L198.05 309 L198.75 308.43 L200.5 308.1 L202.75 308.17 L206 308.63 L213 310.12 L224 313.08 L229.25 314.63 L238.75 317.89 L240 318.01 L243.25 317.66 L251.75 318.85 L261.5 319.43 L262.5 319.65 L264.25 320.7 L265 320.84 L269.25 320.88 L271.25 320.66 L275.5 320.63 L277.5 320.41 L281.75 320.38 L291.5 319.86 L294.5 318.54 L295.72 317.25 L296.5 316.75 L299.78 315.75 L301.42 314 L304.75 311.18 L309.25 305.55 L313.25 297.67 L316 291.32 L321.28 276.5 L326.12 261.5 L329.75 251.36 L333.62 239 L336.63 231 L346.34 211.5 L357.59 190 L361.25 183.5 L365.39 175.5 L368.85 170 L372.75 164.62 L375.75 161.23 L378.75 158.76 L380 158.09 L381.25 157.68 L382.5 157.57 L383.52 157.75 L384.44 158.25 L385.1 159 L385.69 160.25 L385.96 161.5 L385.86 164.5 L384.94 168.75 L383.62 173 L381.56 178.25 L375.74 190.5 L372.75 197.4 L371.38 202.75 L368.4 211.5 L363.75 230.1 L358.45 254 L355.75 265.1 L353.2 277.75 L350.97 286.5 L349 296.32 L347.47 305.25 L347.08 310.75 L346.56 313.75 L343.75 321.39 L341.21 329.75 L340.47 331.25 L339.5 332.28 L334.5 334.77 L332.25 336.4 L325.25 339.44 L322 340.08 L318.25 340.26Z" fill="#fee9d3"/>
<path d="M318.75 339.78 L317 339.97 L307.75 339.97 L305.25 339.73 L299.25 339.68 L294.5 338.78 L288.75 338.11 L270 334.61 L265 333.37 L237.25 325.86 L234.25 324.75 L226.5 323.06 L217.25 320.07 L210.5 317.13 L204.06 313.75 L200.84 311.5 L199.99 310.5 L199.81 309.75 L200 309.39 L200.5 309.07 L201.75 308.82 L204 308.87 L207 309.28 L213.5 310.6 L224 313.34 L229.25 314.87 L239.25 318.21 L240.5 318.3 L243.25 318.05 L251.75 319.25 L261.5 319.82 L262.5 320.08 L264 321 L265 321.17 L269.5 321.25 L277.75 320.79 L282 320.77 L284 320.54 L288.25 320.52 L291.75 320.23 L294.75 318.89 L296.5 317.19 L297.75 316.72 L299.5 316.35 L300.13 316 L301.5 314.46 L305.22 311.25 L309.5 305.88 L313.64 297.75 L316.35 291.5 L321.75 276.34 L326.36 262 L330.25 251.09 L333.86 239.5 L337.06 231 L346.66 211.75 L357.66 190.5 L361.5 183.71 L365.65 175.75 L369.17 170.25 L372.66 165.5 L375.77 162 L378.5 159.75 L379.75 159.05 L381 158.62 L382 158.52 L383 158.69 L383.75 159.09 L384.5 159.88 L384.94 160.75 L385.23 162 L385.18 164.75 L384.35 169 L383.05 173.25 L380.92 178.75 L375.28 190.75 L372.47 197.25 L370.89 203 L368 211.48 L363.37 230 L358.11 253.75 L355.26 265.5 L352.86 277.5 L350.51 286.75 L347.25 304.12 L346.68 310.75 L346.16 313.75 L343.5 320.91 L340.88 329.5 L340.16 331 L339.22 332 L334.25 334.45 L332 336.08 L329 337.25 L326.75 338.47 L325.25 339.04 L322 339.68 L318.75 339.78Z" fill="#fee8d1"/>
<path d="M318.25 339.53 L307.75 339.65 L305.25 339.41 L299.25 339.36 L294.5 338.45 L288.75 337.78 L270.25 334.32 L265.25 333.1 L237.5 325.59 L234.98 324.75 L226.75 322.91 L218.25 320.15 L211.51 317.25 L205.44 314 L202.28 311.75 L201.67 311 L201.53 310.25 L202.25 309.68 L204 309.48 L206.5 309.67 L210.25 310.26 L215.25 311.34 L226 314.14 L239.5 318.45 L240.75 318.56 L243.25 318.37 L251.75 319.58 L261.5 320.15 L262.5 320.44 L263.87 321.25 L264.75 321.39 L269.75 321.54 L271.5 321.36 L275.75 321.34 L277.75 321.11 L282 321.09 L284 320.86 L288.25 320.84 L291.75 320.56 L294.86 319.25 L296 317.97 L296.75 317.43 L300.25 316.36 L301.75 314.67 L305.43 311.5 L309.82 306 L314 297.75 L316.7 291.5 L322 276.61 L326.87 261.5 L330.5 251.37 L334.37 239 L337.31 231.25 L346.89 212 L350.75 204.78 L357.84 190.75 L361.8 183.75 L365.88 176 L369.11 171 L372.41 166.5 L375.25 163.28 L378 160.86 L380.5 159.6 L381.5 159.44 L382.5 159.58 L383.28 160 L383.94 160.75 L384.57 162.75 L384.51 165.25 L383.74 169.5 L382.44 173.75 L380.43 179 L375 190.67 L372.17 197.25 L371.48 199.25 L370.63 202.75 L367.73 211.25 L363 230.16 L357.77 253.75 L355 265.16 L352.52 277.5 L350.25 286.41 L348.25 296.41 L346.74 305.25 L346.36 310.75 L345.82 313.75 L343 321.38 L340.63 329.25 L339.94 330.75 L339 331.76 L334 334.21 L331.75 335.84 L328.76 337 L326.75 338.11 L325.25 338.7 L322 339.36 L318.25 339.53Z" fill="#fee7cf"/>
<path d="M318.25 339 L307.75 339.14 L305.25 338.9 L299.25 338.84 L294.75 337.96 L289 337.3 L269.5 333.63 L257.5 330.56 L240 325.7 L227 322.6 L221.75 320.89 L216.5 318.94 L210.47 316 L206.21 313.25 L205.17 312.25 L204.89 311.5 L205.41 311 L206.75 310.8 L212 311.28 L226.25 314.62 L239.75 318.82 L241 318.99 L243.5 318.91 L251.75 320.09 L261.25 320.64 L262.25 320.89 L263.5 321.55 L264.86 321.75 L269.75 321.97 L275.75 321.85 L277.75 321.62 L282 321.6 L284 321.37 L288.25 321.35 L292 321.06 L295.25 319.7 L296.25 318.46 L297 317.89 L300 317.11 L300.65 316.75 L302.15 315 L305.75 311.92 L310.25 306.29 L314.45 298 L317.15 291.75 L322.5 276.74 L327.33 261.75 L331 251.5 L334.83 239.25 L337.86 231.25 L356.4 194.5 L366.1 176.75 L368.86 172.5 L371.5 168.89 L374.5 165.33 L377.5 162.65 L379.75 161.45 L380.75 161.27 L381.75 161.45 L382.25 161.75 L382.85 162.5 L383.31 164.25 L383.18 167.5 L382.62 170.5 L381.41 174.5 L379.65 179.25 L371.75 197.02 L370.96 199.25 L370.09 202.75 L367.2 211.25 L362.5 230.03 L357.3 253.5 L354.5 265.03 L352.05 277.25 L349.75 286.28 L347.75 296.27 L346.21 305.25 L345.84 310.75 L345.35 313.5 L342.5 321.25 L340.08 329.25 L339.3 330.75 L338.25 331.64 L333.75 333.74 L331.75 335.27 L328.5 336.55 L326 337.89 L322 338.84 L318.25 339Z" fill="#fee5cb"/>
<path d="M319 338.51 L317 338.74 L308 338.74 L305.3 338.5 L299.5 338.47 L294.75 337.56 L289 336.9 L270 333.34 L257.5 330.15 L239.87 325.25 L227.75 322.45 L225 321.61 L217.5 318.84 L212.72 316.5 L209.25 314.25 L208.34 313.25 L208.23 312.5 L209 312.04 L210.5 311.91 L212.75 312.09 L216 312.66 L227.5 315.33 L237.53 318.5 L240.6 319.25 L243.5 319.31 L251.5 320.47 L261.25 321.04 L263.75 321.9 L269.12 322.25 L275.8 322.25 L277.75 322.02 L282.25 321.99 L284 321.77 L288.5 321.74 L292 321.46 L295.5 320.08 L296.53 318.75 L297.25 318.21 L300.75 317.23 L302.46 315.25 L306 312.25 L310.5 306.62 L314.75 298.29 L317.5 291.95 L322.75 277.21 L327.66 262 L331.5 251.24 L335.16 239.5 L338.08 231.75 L355.67 196.75 L366.39 177.25 L370.25 171.56 L373.5 167.54 L376.25 164.88 L378.75 163.35 L379.75 163.09 L380.75 163.21 L381.25 163.52 L381.75 164.2 L382.16 166 L382.14 168.5 L381.59 171.5 L380.32 175.75 L378.86 179.75 L371.25 197.18 L369.67 202.75 L366.75 211.37 L362.25 229.37 L356.9 253.5 L354.05 265.25 L351.65 277.25 L349.3 286.5 L347.3 296.5 L345.81 305.25 L345.47 310.5 L344.94 313.5 L342.25 320.75 L339.66 329.25 L338.99 330.5 L338 331.33 L333.5 333.42 L331.75 334.82 L328.25 336.23 L326 337.46 L324.75 337.89 L322 338.44 L319 338.51Z" fill="#fee2c5"/>
<path d="M318.25 338 L316.75 338.17 L308 338.17 L305.5 337.93 L299.5 337.88 L295 337 L289.25 336.34 L270.25 332.79 L257.75 329.61 L240.25 324.74 L235.75 323.85 L227 321.62 L221.31 319.5 L217.46 317.75 L214.25 315.75 L213.49 315 L213.28 314.5 L213.76 314 L215.25 313.87 L222.25 314.81 L228.5 316.23 L237.68 319 L241.25 319.81 L243.25 319.87 L251.5 321.06 L261.25 321.63 L263.5 322.3 L270.5 322.76 L276 322.82 L277.75 322.6 L282.25 322.57 L284 322.35 L288.5 322.32 L292.25 322.03 L294.25 321.08 L296 320.57 L296.89 319.25 L297.5 318.75 L300.62 318 L301.25 317.63 L302.75 315.77 L306.5 312.58 L309.59 308.5 L311 306.93 L315.29 298.5 L318.01 292.25 L323.5 276.84 L328.11 262.5 L332 251.59 L335.61 240 L338.61 232 L355.1 199.25 L359.52 191 L366.83 178.25 L369.25 174.64 L372 171.19 L375.25 167.91 L377.25 166.64 L378.25 166.39 L379 166.5 L379.83 167.25 L380.25 168.75 L380.18 171 L379.65 173.75 L378.69 177.25 L377.34 181 L370.75 196.52 L369.14 202.5 L366.24 211 L361.5 229.98 L356.3 253.5 L353.5 264.98 L351.1 277 L348.75 286.23 L346.75 296.25 L345.25 305 L344.88 310.5 L344.4 313.25 L341.75 320.41 L339.13 329 L338.63 330 L337.75 330.8 L333.25 332.87 L331.25 334.42 L328 335.71 L325.75 336.93 L321.75 337.88 L318.25 338Z" fill="#feddbc"/>
<path d="M316.75 337.75 L307.75 337.75 L305.5 337.51 L299.5 337.45 L295 336.57 L289.25 335.91 L270.25 332.35 L257.75 329.16 L240.25 324.3 L236 323.49 L227.73 321.25 L223.84 319.75 L220.68 318.25 L218.8 317 L218.38 316.5 L218.34 316 L219 315.66 L220.5 315.55 L225 316.1 L228.75 316.89 L237.5 319.36 L241.5 320.22 L243.25 320.31 L251.25 321.47 L258.5 321.78 L261.25 322.07 L263.25 322.61 L273 323.25 L282.5 322.99 L284.25 322.76 L288.75 322.74 L292.5 322.42 L294.5 321.45 L296.25 321 L297.25 319.52 L297.75 319.12 L300.75 318.42 L301.5 318.01 L303 316.12 L306.75 312.96 L311.48 307 L315.75 298.53 L318.5 292.16 L323.75 277.41 L328.64 262.25 L332.5 251.42 L336.14 239.75 L338.57 233.25 L339.4 231.25 L348.4 213.25 L358.82 193.5 L368.07 177.75 L371 173.95 L373.5 171.41 L375.75 169.77 L376.75 169.46 L377.5 169.57 L378.14 170.25 L378.45 171.75 L378.3 174 L377.83 176.5 L375.98 182.25 L370.25 196.2 L368.84 202 L365.75 211.16 L361.25 229.18 L355.86 253.5 L353.07 265 L350.67 277 L348.32 286.25 L346.32 296.25 L344.82 305 L344.48 310.25 L343.96 313.25 L341.25 320.55 L338.85 328.5 L338.27 329.75 L337.5 330.44 L333 332.5 L331.25 333.94 L327.96 335.25 L325.5 336.57 L321.75 337.45 L316.75 337.75Z" fill="#fed8b2"/>
<path d="M318 337.27 L316.75 337.43 L308 337.43 L305.75 337.19 L299.75 337.14 L295 336.22 L289.5 335.59 L270.5 332.03 L258 328.85 L240.5 323.99 L236 323.07 L229.7 321.25 L226.82 320.25 L224.24 319 L222.77 318 L222.42 317.5 L222.45 317.25 L222.89 317 L224 316.9 L227.25 317.23 L241 320.49 L251 321.79 L258.5 322.13 L261 322.39 L263 322.89 L273.25 323.59 L282.5 323.34 L284.5 323.1 L288.75 323.08 L292.5 322.78 L294.75 321.73 L296.58 321.25 L297.5 319.78 L298 319.39 L301 318.71 L301.75 318.27 L303.25 316.35 L306.95 313.25 L310.37 308.75 L311.71 307.25 L316.01 298.75 L318.75 292.43 L324.25 276.96 L328.9 262.5 L332.75 251.72 L336.41 240 L338.93 233.25 L339.9 231 L348.66 213.5 L359.43 193.5 L368.5 178.51 L370.75 175.7 L372.75 173.74 L374.5 172.63 L375.75 172.49 L376.5 173.16 L376.79 174.25 L376.77 176 L376.37 178.25 L375.07 182.5 L370 195.45 L368.54 201.75 L365.25 211.71 L360.77 229.75 L355.58 253.25 L352.78 264.75 L350.33 277 L348 286.15 L346 296.16 L344.5 304.92 L344.15 310.25 L343.61 313.25 L341 320.23 L338.48 328.5 L338.02 329.5 L337.25 330.19 L332.75 332.24 L331 333.68 L327.75 334.97 L325.5 336.2 L321.75 337.11 L318 337.27Z" fill="#fed2a7"/>
<path d="M317.75 337.03 L308 337.15 L305.75 336.92 L299.75 336.85 L295 335.91 L289.5 335.27 L270.75 331.74 L258.03 328.5 L244.25 324.63 L235.56 322.5 L228.32 320 L227 319.25 L226.55 318.75 L226.57 318.5 L227.75 318.23 L229.75 318.46 L241.5 320.91 L251 322.1 L260.75 322.69 L263.75 323.23 L275 323.9 L282.75 323.65 L284.5 323.42 L289 323.38 L292.75 323.04 L294.75 322.06 L296.75 321.54 L298.02 319.75 L301 319.03 L301.75 318.67 L303.5 316.51 L307 313.63 L312.2 307 L316.25 298.88 L319 292.54 L324.5 277.06 L329.11 262.75 L332.5 253.33 L336.7 240 L339.97 231.5 L349.13 213.25 L354.5 203.1 L361.47 191 L369.51 178.5 L371 176.88 L372.5 175.63 L373.75 175.04 L374.5 175.07 L375 175.5 L375.34 176.75 L375.28 178.25 L374.9 180.25 L373.81 183.75 L370.15 193.5 L369.43 196 L368.25 201.53 L364.91 211.75 L360.53 229.5 L355.35 253 L352.5 264.74 L350.09 276.75 L347.75 286 L345.75 296 L344.25 304.75 L343.86 310.25 L343.37 313 L340.75 320.05 L338.16 328.5 L337.75 329.34 L337 329.98 L332.55 332 L330.75 333.46 L327.75 334.64 L325.25 335.98 L321.5 336.86 L317.75 337.03Z" fill="#fdcb9b"/>
<path d="M317.75 336.76 L316.5 336.89 L308 336.89 L306 336.67 L300 336.59 L295.25 335.64 L289.75 334.98 L271 331.39 L237.37 322.5 L233.89 321.25 L232.17 320.25 L232.5 320 L233.25 320.01 L241.25 321.25 L251 322.39 L258.25 322.78 L262.75 323.41 L271.75 324.1 L276.5 324.22 L278.25 324.03 L282.75 323.99 L284.5 323.76 L289.25 323.69 L292.75 323.36 L295 322.29 L297 321.77 L298.25 319.98 L301.25 319.25 L302 318.85 L303.65 316.75 L307.25 313.79 L312.36 307.25 L316.47 299 L319.18 292.75 L324.6 277.5 L329.37 262.75 L332.75 253.36 L336.96 240 L340.25 231.51 L349.25 213.65 L354.75 203.37 L361.6 191.75 L367.25 183.13 L369.75 179.68 L370.75 178.62 L371.75 177.9 L372.5 177.58 L373.25 177.63 L373.74 178.25 L373.88 179 L373.63 181.5 L372.58 185 L369.77 193 L367.87 201.5 L364.81 210.75 L360.25 229.5 L355.08 253 L352.3 264.5 L349.83 276.75 L347.56 285.75 L345.5 295.99 L343.99 304.75 L343.62 310 L343.08 313 L340.39 320.25 L338 328.04 L337.5 329.15 L336.79 329.75 L332.39 331.75 L330.75 333.12 L327.5 334.43 L325.06 335.75 L321.5 336.58 L317.75 336.76Z" fill="#fdc590"/>
<path d="M317.5 336.53 L308 336.62 L306 336.4 L300.25 336.32 L295.25 335.3 L289.75 334.55 L270.32 330.5 L242.31 323.25 L239.18 322.25 L238.69 322 L238.6 321.75 L242.75 321.82 L251 322.7 L274.5 324.51 L282.75 324.47 L292.5 323.76 L293.5 323.49 L295 322.66 L297.25 322.01 L298.5 320.24 L302 319.23 L303.8 317 L307.5 313.95 L312.65 307.25 L316.73 299 L319.43 292.75 L324.84 277.5 L329.63 262.75 L332.86 253.75 L337.22 240 L340.42 231.75 L349.5 213.86 L355.32 203.25 L360.25 194.9 L364 189.04 L368.25 183.14 L370.5 180.72 L371.25 180.26 L371.75 180.21 L372.12 180.5 L372.31 181.25 L372 183.83 L368.79 194.5 L367.25 201.58 L364.42 210.5 L360.02 229.25 L354.82 253 L352.05 264.5 L349.57 276.75 L347.31 285.75 L345.3 295.75 L343.74 304.75 L343.34 310 L342.79 313 L340.17 320 L337.75 327.74 L337.25 328.9 L336.54 329.5 L332.25 331.46 L330.5 332.87 L327.5 334.09 L325 335.44 L321.5 336.3 L317.5 336.53Z" fill="#fdbc7f"/>
<path d="M317.25 336.27 L308 336.33 L300 335.95 L295.5 334.89 L290 333.94 L253 325.35 L246.67 323.75 L244.9 323 L246 322.81 L248.25 322.86 L276.25 324.89 L283.25 325.06 L289.5 324.7 L293.25 324.11 L295.25 323.03 L297.5 322.33 L298.75 320.62 L301.5 319.85 L302.25 319.47 L304.01 317.25 L307.75 314.18 L312.82 307.5 L316.88 299.25 L319.58 293 L325.08 277.5 L329.75 263.14 L333.12 253.75 L337.48 240 L340.72 231.75 L348.75 216.01 L360 196.16 L363 191.5 L366 187.41 L368.5 184.56 L369.25 183.96 L370 183.72 L370.34 184 L370.48 184.5 L370.25 186.75 L363.78 210.25 L361.75 220.59 L354.55 253 L351.85 264.25 L349.29 276.75 L347.06 285.75 L344.03 301.5 L343.48 304.75 L343.04 310 L342.36 313.25 L339.91 319.75 L337.25 327.9 L336.75 328.8 L335.5 329.58 L332 331.15 L330.31 332.5 L327.5 333.67 L324.54 335.25 L321.25 336.02 L317.25 336.27Z" fill="#fdb26e"/>
<path d="M316.5 336 L308 335.98 L300.25 335.57 L293.75 333.89 L274.5 329.87 L259 326.32 L251.71 324.5 L249.93 323.75 L251.5 323.56 L256 323.74 L274.75 325.13 L283.25 325.49 L289.25 325.38 L292.5 324.95 L293.75 324.57 L295.5 323.52 L297.75 322.74 L299.25 320.96 L302.25 319.94 L304.29 317.5 L308 314.48 L313.16 307.5 L317.17 299.25 L319.84 293 L325.32 277.5 L330 263.19 L333.38 253.75 L337.75 240.02 L340.92 232 L348.25 217.72 L352.25 211.16 L357.19 201.75 L359.25 198.21 L362 193.94 L365 189.86 L367 187.76 L367.75 187.28 L368.25 187.18 L368.63 187.5 L368.79 188.25 L368.5 190.69 L366.16 199.75 L362.75 211.8 L361 222.07 L345.78 290.75 L343.23 304.5 L342.72 309.75 L342.05 313 L339.7 319.25 L337.8 325 L336.75 327.75 L336.25 328.52 L331.5 330.9 L330 332.08 L327.25 333.3 L324.25 334.92 L321 335.69 L316.5 336Z" fill="#fda860"/>
<path d="M317.5 335.51 L308.25 335.61 L300.5 335.16 L293.75 333.28 L284.25 331.61 L265.68 327.5 L257.49 325.5 L254.78 324.5 L256 324.26 L258.75 324.33 L275.25 325.45 L284.75 325.87 L289.75 325.79 L293 325.52 L294 325.18 L295.75 324.06 L298 323.17 L299.5 321.49 L302.5 320.29 L304.63 317.75 L308.5 314.55 L313.38 307.75 L317.46 299.25 L320.12 293 L333.57 254 L337.97 240.25 L341.16 232.25 L348.25 218.54 L352 212.62 L356.67 203.5 L359 199.4 L361.75 195.21 L364.25 192.01 L366 190.32 L366.5 190.06 L367 190.08 L367.27 190.5 L367.32 191.75 L366.38 196.75 L361.75 213.79 L360.66 221.5 L357.25 237.75 L345.28 291.75 L342.92 304.5 L342.33 309.75 L341.61 313 L337.46 324.5 L336.25 327.5 L335.75 328.19 L331.25 330.47 L329.5 331.73 L327 332.88 L324.25 334.43 L321 335.29 L317.5 335.51Z" fill="#fd9b4e"/>
<path d="M316.75 335.03 L313.5 334.89 L308 335.01 L303.5 334.83 L301 334.55 L296 333.01 L284.5 331.2 L273.32 328.75 L264.26 326.5 L262.69 326 L261.95 325.5 L263.25 325.32 L265.5 325.34 L285 326.32 L292.5 326.2 L294.25 326 L298.25 323.89 L300 322.19 L302.75 320.93 L305 318.27 L308 315.96 L308.97 315 L313.81 308 L317.81 299.5 L320.45 293.25 L333.91 254.25 L338.34 240.5 L341.58 232.5 L348.75 218.85 L352.25 213.42 L355.5 206.84 L358.5 201.37 L362.25 196.03 L363.75 194.55 L364.75 194.14 L365.25 194.55 L365.44 195.5 L365.02 199.25 L360.55 216 L359.88 222 L356.73 237.75 L345.09 290.5 L342.48 304.25 L341.73 309.75 L341.03 312.75 L337.65 322 L335.69 326.75 L335.22 327.5 L324 333.8 L320.75 334.71 L316.75 335.03Z" fill="#fd8f41"/>
<path d="M319 334.26 L316.25 334.47 L313.5 334.25 L308.5 334.42 L302.5 334.12 L300.61 333.75 L297.25 332.64 L292.75 332.08 L283.32 330.5 L272.82 328 L269.22 326.75 L269.31 326.5 L271 326.36 L285 326.76 L293.25 326.62 L295 326.44 L298.5 324.63 L300.63 322.75 L302.84 321.75 L303.75 320.88 L305.4 318.75 L308.5 316.41 L309.59 315.25 L314.23 308.25 L318.28 299.5 L320.88 293.25 L323.13 286.25 L326.74 276.5 L334.35 254.25 L338.8 240.5 L342.01 232.75 L349 219.6 L352 214.99 L355 208.82 L358.25 202.98 L359.75 200.69 L361.5 198.49 L362.75 197.39 L363.5 197.21 L363.94 197.75 L364.05 198.5 L363.73 201.5 L362.25 208 L359.7 217 L359.12 222.5 L356.26 237.5 L344.42 291.5 L341.99 304.25 L341.17 309.5 L340.46 312.5 L337.04 321.75 L335.02 326.25 L334.52 327 L332.75 328.09 L330 329.42 L323.75 333.15 L321 334.04 L319 334.26Z" fill="#fd8234"/>
<path d="M318.75 333.51 L316.25 333.69 L313.5 333.39 L309.25 333.62 L303.75 333.49 L298.99 332.25 L294.09 331.75 L285.44 330.25 L280.52 329 L279.03 328.5 L278.16 328 L278.29 327.75 L279.89 327.5 L294.5 327.12 L297.84 326.25 L299 325.52 L301 323.75 L303.5 322.52 L305.82 319.5 L309.75 316.44 L312.28 312.75 L314.85 308.5 L318.79 299.75 L321.46 293.25 L323.64 286.25 L327.9 274.75 L334.93 254.25 L339.33 240.75 L342.5 233.26 L349.38 220.5 L351.75 216.8 L354.25 211.56 L357 206.6 L360 202.32 L361 201.44 L361.75 201.26 L362.11 201.75 L362.21 202.75 L361.75 206.75 L360.7 211.25 L358.63 218.5 L358.16 223 L355.58 237.5 L346.34 279.5 L343.09 295 L340.42 309.25 L339.66 312.25 L336.42 321 L333.67 326.25 L332.16 327.25 L329.25 328.65 L323.25 332.37 L321 333.19 L318.75 333.51Z" fill="#fc752d"/>
<path d="M318.5 332.76 L316.25 332.9 L313.5 332.53 L309.5 332.82 L304.25 332.78 L300.25 331.84 L294.58 331.25 L289.4 330.25 L286.68 329.5 L285.79 329 L285.78 328.75 L286.5 328.42 L288.25 328.11 L295 327.64 L299.25 326.5 L301.5 324.64 L303.75 323.64 L304.25 323.25 L306.25 320.22 L309.25 318.09 L310.42 317 L313.08 313 L315.5 308.65 L322.03 293.25 L324.39 285.5 L328.45 274.75 L335.34 254.75 L339.86 241 L340.75 238.81 L344.1 231.5 L351.5 218.48 L355.5 210.6 L358.5 206.15 L359.5 205.23 L360.25 205.14 L360.5 205.5 L360.64 206.5 L360.41 209 L359.5 213.28 L357.64 220 L357.26 223.25 L354.89 237.5 L349 265.09 L345.73 279.25 L340.4 305.75 L338.95 311.75 L335.75 320.38 L332.85 325.5 L331.5 326.46 L328.5 327.86 L322.75 331.59 L320.75 332.41 L318.5 332.76Z" fill="#fb6825"/>
<path d="M318.25 332.02 L316.25 332.11 L313.5 331.65 L309.5 332.02 L304.75 332.07 L301.93 331.5 L297.29 331 L294.55 330.5 L292.06 329.75 L291.48 329.25 L291.71 329 L292.5 328.75 L295 328.35 L299.83 327 L302.25 325.35 L304.75 324.25 L305.23 323.75 L305.82 322.25 L306.5 321.15 L307.25 320.45 L309.75 318.83 L310.92 317.75 L313.87 313.25 L316.17 308.75 L322.52 293.5 L324.89 285.5 L328.92 275 L340.76 240.25 L344.58 232 L350.15 222.25 L354.75 213.32 L357.25 209.66 L358.25 208.81 L358.75 208.79 L359 209.14 L359.12 210 L358.92 212.25 L358.27 215.5 L356.7 221.5 L354.25 237.26 L352.43 245.25 L350.87 253.5 L348.47 264.75 L345.12 279 L344.15 284.5 L340.25 303.25 L338.16 311.5 L335.11 319.75 L332 324.82 L330.7 325.75 L327.88 327 L321.93 331 L320.25 331.69 L318.25 332.02Z" fill="#fa5a22"/>
<path d="M318 331.28 L316.5 331.35 L313.5 330.76 L309.5 331.21 L305 331.33 L298.18 330.5 L296.5 330 L295.97 329.5 L296.19 329 L297.01 328.5 L301 327.22 L303 326.07 L305.92 324.75 L306.27 324.25 L306.53 322.75 L307.05 321.75 L307.75 321.12 L310.25 319.57 L311.66 318.25 L314.64 313.5 L316.78 309 L323.09 293.5 L325.3 285.75 L329.48 275 L341.29 240.5 L345.06 232.5 L350.73 222.75 L351.54 220.75 L353.75 216.48 L355.75 213.43 L356.75 212.51 L357.25 212.44 L357.5 212.75 L357.62 213.5 L357.49 215.5 L355.36 224.25 L353.56 237.25 L351.73 245.25 L350.27 253.25 L347.86 264.75 L344.66 278 L343.56 284.5 L339.65 303 L337.46 311 L334.42 319.25 L331.07 324.25 L329.98 325 L327.25 326.14 L321.25 330.36 L320 330.92 L318 331.28Z" fill="#f84e1e"/>
<path d="M317.5 330.77 L316.48 330.75 L313.75 330.07 L309.5 330.61 L306.25 330.79 L302.5 330.65 L298.75 330.01 L298.18 329.75 L297.85 329.25 L298.72 328.5 L302 327.35 L306.23 325.5 L306.98 325 L307.17 324.5 L307.13 323 L307.45 322.25 L308.25 321.54 L310.5 320.22 L312.09 318.75 L315.19 313.75 L317.25 309.15 L323.5 293.56 L325.67 285.75 L329.8 275.25 L341.66 240.75 L345.61 232.5 L351.24 223 L351.86 221 L353.25 218.37 L355 215.76 L355.75 215.08 L356.25 214.99 L356.58 215.75 L356.5 217.54 L355.52 222 L354.73 224.25 L352.89 238 L351.26 245 L349.78 253.25 L347.46 264.5 L344.21 277.75 L343.17 284.25 L339.22 302.75 L336.89 310.75 L333.84 319 L331.72 321.75 L330.5 323.7 L329.5 324.4 L326.78 325.5 L320.57 330 L319.5 330.42 L317.5 330.77Z" fill="#f64220"/>
<path d="M306.25 330.25 L304.25 330.1 L302.25 330.21 L300.34 329.75 L299.73 329.25 L299.78 329 L300.43 328.5 L305.75 326.5 L307.74 325.5 L308.03 325 L307.76 323.25 L308 322.56 L311 320.67 L312.73 319 L315.72 314 L323.84 293.75 L325.95 286 L330.2 275.25 L342 241 L346.02 232.75 L351.74 223.25 L352.13 221.5 L352.5 220.69 L354.25 218.09 L354.75 217.63 L355.25 217.49 L355.57 218.25 L355.49 219.75 L354.98 222.25 L354.16 224 L352.6 237 L350.76 245 L349.37 253 L347.08 264.25 L343.75 277.66 L342.56 285.25 L341.23 290.75 L338.57 303.5 L336.34 310.5 L333.4 318.5 L330.97 321.5 L329.75 323.35 L329 323.82 L326.5 324.74 L320.96 329 L319.75 329.72 L317 330.24 L313.5 329.4 L311.5 329.8 L306.25 330.25Z" fill="#f43821"/>
<path d="M318.25 329.76 L316.75 329.88 L313.75 328.98 L309.25 329.71 L305.75 329.96 L304 329.72 L302.75 329.93 L301.28 329.5 L301 329 L302.11 328.25 L306.26 326.75 L308.17 325.75 L308.55 325 L308.18 323.5 L308.35 322.75 L311.2 321 L313.01 319.25 L316 314.21 L324.11 293.75 L326.18 286 L330.37 275.5 L342.29 241 L346.35 232.75 L352.13 223.25 L352.75 221 L353.75 219.64 L354.5 219.15 L354.75 219.29 L354.88 219.75 L354.85 221 L354.6 222.25 L353.82 223.75 L352.35 236.75 L350.5 244.78 L349.08 253 L346.81 264.25 L343.5 277.46 L342.29 285.25 L341 290.55 L338.52 302.5 L337.73 305.25 L333.12 318.25 L332.5 319.2 L330.61 321.25 L329.69 322.75 L328.75 323.44 L326.41 324.25 L320.5 328.87 L319.5 329.43 L318.25 329.76Z" fill="#f22f26"/>
<path d="M317.75 329.55 L316.75 329.57 L313.75 328.63 L311.25 329.16 L306 329.66 L304 329.26 L302.75 329.41 L302.26 329 L302.75 328.57 L307.5 326.62 L308.46 326 L308.96 325 L308.56 323.5 L308.65 323 L309.2 322.5 L311.41 321.25 L313.44 319.25 L316.25 314.41 L324.37 293.75 L326.42 286 L330.63 275.5 L342.46 241.25 L346.53 233 L352.56 223.25 L353.05 221.5 L353.5 220.98 L354 220.87 L354.2 221.75 L353.46 223.5 L352.07 236.75 L350.23 244.75 L348.81 253 L346.55 264.25 L343.27 277.25 L342.09 285 L340.75 290.5 L338.31 302.25 L337.51 305 L333.38 316.75 L332.46 318.75 L330.36 321 L329 322.89 L326.25 323.91 L320.25 328.65 L319.25 329.2 L317.75 329.55Z" fill="#ef262d"/>
<path d="M317.75 329.26 L316.75 329.26 L313.75 328.32 L311 328.91 L306 329.37 L305.06 329.25 L304.38 328.75 L304.39 328.5 L304.75 328.17 L307.99 326.75 L308.75 326.17 L309.31 325 L308.93 323.5 L309.11 323 L311.5 321.56 L313.61 319.5 L316.53 314.5 L324.54 294 L326.67 286 L330.89 275.5 L342.73 241.25 L346.83 233 L351.25 225.72 L352.75 223.96 L353.03 224.5 L352.91 226.5 L351.8 236.75 L349.95 244.75 L348.59 252.75 L346.34 264 L343 277.25 L341.83 285 L340.49 290.5 L338.04 302.25 L337.25 304.93 L333.16 316.5 L332.08 318.75 L330.16 320.75 L328.75 322.66 L326 323.68 L320 328.46 L319 328.98 L317.75 329.26Z" fill="#ec1e32"/>
<path d="M317.25 329.01 L314 328.05 L311 328.61 L306 329.03 L305.25 328.82 L305.17 328.5 L308.25 326.97 L309 326.37 L309.62 325.25 L309.33 323.75 L309.4 323.25 L311.75 321.75 L314 319.5 L316.85 314.5 L324.83 294 L326.85 286.25 L330.23 278 L333.33 269.5 L343 241.32 L347.01 233.25 L351.25 226.31 L352.25 225.18 L352.5 225.34 L352.58 226.75 L351.86 234.25 L351.14 238.75 L349.72 244.5 L348.31 252.75 L346.06 264 L342.71 277.25 L341.56 285 L340.21 290.5 L337.76 302.25 L337 304.78 L332.84 316.5 L331.9 318.5 L329.76 320.75 L328.5 322.44 L326.5 323.07 L325.5 323.64 L319.5 328.42 L318.5 328.82 L317.25 329.01Z" fill="#e51639"/>
<path d="M317.25 328.51 L314.25 327.65 L309 328.31 L308.08 328.25 L307.85 328 L309.25 326.88 L309.99 325.75 L310.18 325 L310.02 323.5 L312.19 322 L314.41 319.75 L317.37 314.5 L325.32 294 L327.25 286.5 L330.63 278.25 L333.82 269.5 L343.43 241.5 L347.5 233.35 L350.75 228.03 L351.5 227.23 L351.75 227.24 L351.89 229 L350.8 238.5 L349.06 245.5 L347.88 252.5 L345.58 264 L342.29 277 L341.14 284.75 L339.79 290.25 L337.28 302.25 L336.51 304.75 L332.42 316.25 L331.48 318.25 L329.5 320.31 L328.25 321.97 L326.25 322.64 L325.25 323.21 L319.26 328 L318.25 328.38 L317.25 328.51Z" fill="#db0b41"/>
<path d="M318.25 327.32 L317.25 327.45 L315 326.92 L312.75 327.32 L311.25 326.96 L310.91 326.5 L311.31 324 L313 322.61 L315.3 320.25 L318.36 314.75 L326.2 294.5 L328.25 286.68 L332.45 276.25 L344.25 242.17 L348.25 234.08 L349.5 232.12 L350.25 231.36 L350.42 231.75 L350.43 233.25 L350.08 236.5 L350.24 238.5 L347.75 247.95 L344.6 263.75 L341.31 276.75 L340.16 284.5 L338.81 290 L336.35 301.75 L335.75 303.86 L331.5 315.84 L330.58 317.75 L327.7 321 L324.75 322.33 L319.31 326.75 L318.25 327.32Z" fill="#cf0347"/>
<path d="M313.25 326.78 L312.74 326.75 L312.25 326.41 L312.09 326 L312.29 325.25 L312.85 324.5 L316.96 320.5 L320.04 315.25 L327.9 295 L329.85 287.5 L332.25 280.84 L334.36 273.75 L337.63 264.25 L341.09 255 L346.09 242.5 L348.09 239.25 L348.75 238.44 L349.25 238.27 L349.31 239.25 L348.75 241.76 L344.5 256.71 L339.6 276.25 L338.44 284 L337.1 289.5 L334.5 301.86 L329.72 315.5 L329 316.83 L326.5 319.48 L323.75 320.88 L321.5 322.89 L318.25 325.31 L317.5 325.61 L315.75 325.86 L313.25 326.78Z" fill="#c20045"/>
<path d="M313.75 326.06 L313 326.09 L312.88 325.75 L313 325.44 L318.55 319.75 L323.5 310.9 L327.75 299.2 L334.55 274.5 L337.87 264.75 L342.35 253.25 L346 245.4 L347 243.66 L347.5 243.21 L347.5 244.16 L347 246.37 L341.25 265.48 L338.5 275.48 L335.61 290.25 L333.11 300.75 L328.69 312.75 L327.19 315.5 L321.2 322.25 L317.5 324.43 L313.75 326.06Z" fill="#b1003f"/>
<path d="M316.25 324.27 L315.5 324.48 L315.25 324.45 L315.2 324.25 L315.91 323.25 L319 319.98 L324.25 310.6 L328.26 299.25 L335.22 273.5 L338.25 264.67 L342 255.09 L344.25 250.39 L345.5 248.46 L345.5 249.39 L345 251.41 L340.75 265.59 L338.02 275.5 L335.12 290.25 L332.67 300.25 L328.38 311.75 L327.18 314 L321.05 321.75 L319.75 322.62 L316.25 324.27Z" fill="#9d0036"/>
<path d="M318.25 322.77 L317.75 322.89 L317.4 322.75 L319.45 320 L324.56 310.75 L328.65 299 L335.25 274.17 L339.75 261.58 L342.5 254.94 L343.75 252.92 L343.82 253.5 L343.5 255.03 L337.79 275.25 L334.81 290.25 L332.01 301.25 L327.42 313 L321 321.25 L320.05 322 L318.25 322.77Z" fill="#89002d"/>
<path d="M320 321.25 L319.69 321.25 L319.64 321 L320 320.15 L324.72 311.25 L328.57 300.25 L335.5 274.27 L339 264.35 L340.75 260.27 L341.75 258.48 L341.75 259.29 L341.25 261.4 L337.43 275.5 L334.5 290.32 L331.87 300.75 L327.17 312.75 L322.25 318.99 L320.75 320.7 L320 321.25Z" fill="#760024"/>
<path d="M322.5 317.31 L322.75 316.11 L325.14 311.25 L329.08 299.75 L335.75 274.55 L339.25 265.41 L339.42 265.5 L339.25 266.79 L337.14 275.25 L334.25 290 L331.6 300.5 L327 312.25 L324 316 L322.5 317.31Z" fill="#65001c"/>
</g>
<path d="M410 356 L436.02 355.02 L451.23 353.53 L463.89 351.75 L475.09 349.76 L485.29 347.59 L494.72 345.27 L503.54 342.81 L511.84 340.23 L519.68 337.53 L527.13 334.73 L534.22 331.84 L540.97 328.85 L547.43 325.78 L553.59 322.63 L559.49 319.41 L565.12 316.11 L570.52 312.75 L575.68 309.32 L580.61 305.83 L585.32 302.28 L589.81 298.68 L594.1 295.02 L598.18 291.32 L602.06 287.57 L605.75 283.77 L609.24 279.93 L612.54 276.06 L615.65 272.14 L618.57 268.19 L621.31 264.21 L623.87 260.2 L626.24 256.16 L628.44 252.09 L630.45 248 L632.29 243.89 L633.95 239.76 L635.43 235.61 L636.74 231.44 L637.87 227.26 L638.83 223.07 L639.61 218.87 L640.22 214.66 L640.65 210.44 L640.91 206.22 L641 202 L640.91 197.78 L640.65 193.56 L640.22 189.34 L639.61 185.13 L638.83 180.93 L637.87 176.74 L636.74 172.56 L635.43 168.39 L633.95 164.24 L632.29 160.11 L630.45 156 L628.44 151.91 L626.24 147.84 L623.87 143.8 L621.31 139.79 L618.57 135.81 L615.65 131.86 L612.54 127.94 L609.24 124.07 L605.75 120.23 L602.06 116.43 L598.18 112.68 L594.1 108.98 L589.81 105.32 L585.32 101.72 L580.61 98.17 L575.68 94.68 L570.52 91.25 L565.12 87.89 L559.49 84.59 L553.59 81.37 L547.43 78.22 L540.97 75.15 L534.22 72.16 L527.13 69.27 L519.68 66.47 L511.84 63.77 L503.54 61.19 L494.72 58.73 L485.29 56.41 L475.09 54.24 L463.89 52.25 L451.23 50.47 L436.02 48.98 L410 48 M410 356 L427.35 355.02 L437.48 353.53 L445.92 351.75 L453.39 349.76 L460.19 347.59 L466.48 345.27 L472.36 342.81 L477.89 340.23 L483.12 337.53 L488.09 334.73 L492.81 331.84 L497.32 328.85 L501.62 325.78 L505.73 322.63 L509.66 319.41 L513.42 316.11 L517.01 312.75 L520.45 309.32 L523.74 305.83 L526.88 302.28 L529.87 298.68 L532.73 295.02 L535.45 291.32 L538.04 287.57 L540.5 283.77 L542.83 279.93 L545.02 276.06 L547.1 272.14 L549.05 268.19 L550.87 264.21 L552.58 260.2 L554.16 256.16 L555.63 252.09 L556.97 248 L558.19 243.89 L559.3 239.76 L560.29 235.61 L561.16 231.44 L561.91 227.26 L562.55 223.07 L563.07 218.87 L563.48 214.66 L563.77 210.44 L563.94 206.22 L564 202 L563.94 197.78 L563.77 193.56 L563.48 189.34 L563.07 185.13 L562.55 180.93 L561.91 176.74 L561.16 172.56 L560.29 168.39 L559.3 164.24 L558.19 160.11 L556.97 156 L555.63 151.91 L554.16 147.84 L552.58 143.8 L550.87 139.79 L549.05 135.81 L547.1 131.86 L545.02 127.94 L542.83 124.07 L540.5 120.23 L538.04 116.43 L535.45 112.68 L532.73 108.98 L529.87 105.32 L526.88 101.72 L523.74 98.17 L520.45 94.68 L517.01 91.25 L513.42 87.89 L509.66 84.59 L505.73 81.37 L501.62 78.22 L497.32 75.15 L492.81 72.16 L488.09 69.27 L483.12 66.47 L477.89 63.77 L472.36 61.19 L466.48 58.73 L460.19 56.41 L453.39 54.24 L445.92 52.25 L437.48 50.47 L427.35 48.98 L410 48 M410 356 L418.67 355.02 L423.74 353.53 L427.96 351.75 L431.7 349.76 L435.1 347.59 L438.24 345.27 L441.18 342.81 L443.95 340.23 L446.56 337.53 L449.04 334.73 L451.41 331.84 L453.66 328.85 L455.81 325.78 L457.86 322.63 L459.83 319.41 L461.71 316.11 L463.51 312.75 L465.23 309.32 L466.87 305.83 L468.44 302.28 L469.94 298.68 L471.37 295.02 L472.73 291.32 L474.02 287.57 L475.25 283.77 L476.41 279.93 L477.51 276.06 L478.55 272.14 L479.52 268.19 L480.44 264.21 L481.29 260.2 L482.08 256.16 L482.81 252.09 L483.48 248 L484.1 243.89 L484.65 239.76 L485.14 235.61 L485.58 231.44 L485.96 227.26 L486.28 223.07 L486.54 218.87 L486.74 214.66 L486.88 210.44 L486.97 206.22 L487 202 L486.97 197.78 L486.88 193.56 L486.74 189.34 L486.54 185.13 L486.28 180.93 L485.96 176.74 L485.58 172.56 L485.14 168.39 L484.65 164.24 L484.1 160.11 L483.48 156 L482.81 151.91 L482.08 147.84 L481.29 143.8 L480.44 139.79 L479.52 135.81 L478.55 131.86 L477.51 127.94 L476.41 124.07 L475.25 120.23 L474.02 116.43 L472.73 112.68 L471.37 108.98 L469.94 105.32 L468.44 101.72 L466.87 98.17 L465.23 94.68 L463.51 91.25 L461.71 87.89 L459.83 84.59 L457.86 81.37 L455.81 78.22 L453.66 75.15 L451.41 72.16 L449.04 69.27 L446.56 66.47 L443.95 63.77 L441.18 61.19 L438.24 58.73 L435.1 56.41 L431.7 54.24 L427.96 52.25 L423.74 50.47 L418.67 48.98 L410 48 M410.5 48 L410.5 356 M410 356 L401.33 355.02 L396.26 353.53 L392.04 351.75 L388.3 349.76 L384.9 347.59 L381.76 345.27 L378.82 342.81 L376.05 340.23 L373.44 337.53 L370.96 334.73 L368.59 331.84 L366.34 328.85 L364.19 325.78 L362.14 322.63 L360.17 319.41 L358.29 316.11 L356.49 312.75 L354.77 309.32 L353.13 305.83 L351.56 302.28 L350.06 298.68 L348.63 295.02 L347.27 291.32 L345.98 287.57 L344.75 283.77 L343.59 279.93 L342.49 276.06 L341.45 272.14 L340.48 268.19 L339.56 264.21 L338.71 260.2 L337.92 256.16 L337.19 252.09 L336.52 248 L335.9 243.89 L335.35 239.76 L334.86 235.61 L334.42 231.44 L334.04 227.26 L333.72 223.07 L333.46 218.87 L333.26 214.66 L333.12 210.44 L333.03 206.22 L333 202 L333.03 197.78 L333.12 193.56 L333.26 189.34 L333.46 185.13 L333.72 180.93 L334.04 176.74 L334.42 172.56 L334.86 168.39 L335.35 164.24 L335.9 160.11 L336.52 156 L337.19 151.91 L337.92 147.84 L338.71 143.8 L339.56 139.79 L340.48 135.81 L341.45 131.86 L342.49 127.94 L343.59 124.07 L344.75 120.23 L345.98 116.43 L347.27 112.68 L348.63 108.98 L350.06 105.32 L351.56 101.72 L353.13 98.17 L354.77 94.68 L356.49 91.25 L358.29 87.89 L360.17 84.59 L362.14 81.37 L364.19 78.22 L366.34 75.15 L368.59 72.16 L370.96 69.27 L373.44 66.47 L376.05 63.77 L378.82 61.19 L381.76 58.73 L384.9 56.41 L388.3 54.24 L392.04 52.25 L396.26 50.47 L401.33 48.98 L410 48 M410 356 L392.65 355.02 L382.52 353.53 L374.08 351.75 L366.61 349.76 L359.81 347.59 L353.52 345.27 L347.64 342.81 L342.11 340.23 L336.88 337.53 L331.91 334.73 L327.19 331.84 L322.68 328.85 L318.38 325.78 L314.27 322.63 L310.34 319.41 L306.58 316.11 L302.99 312.75 L299.55 309.32 L296.26 305.83 L293.12 302.28 L290.13 298.68 L287.27 295.02 L284.55 291.32 L281.96 287.57 L279.5 283.77 L277.17 279.93 L274.98 276.06 L272.9 272.14 L270.95 268.19 L269.13 264.21 L267.42 260.2 L265.84 256.16 L264.37 252.09 L263.03 248 L261.81 243.89 L260.7 239.76 L259.71 235.61 L258.84 231.44 L258.09 227.26 L257.45 223.07 L256.93 218.87 L256.52 214.66 L256.23 210.44 L256.06 206.22 L256 202 L256.06 197.78 L256.23 193.56 L256.52 189.34 L256.93 185.13 L257.45 180.93 L258.09 176.74 L258.84 172.56 L259.71 168.39 L260.7 164.24 L261.81 160.11 L263.03 156 L264.37 151.91 L265.84 147.84 L267.42 143.8 L269.13 139.79 L270.95 135.81 L272.9 131.86 L274.98 127.94 L277.17 124.07 L279.5 120.23 L281.96 116.43 L284.55 112.68 L287.27 108.98 L290.13 105.32 L293.12 101.72 L296.26 98.17 L299.55 94.68 L302.99 91.25 L306.58 87.89 L310.34 84.59 L314.27 81.37 L318.38 78.22 L322.68 75.15 L327.19 72.16 L331.91 69.27 L336.88 66.47 L342.11 63.77 L347.64 61.19 L353.52 58.73 L359.81 56.41 L366.61 54.24 L374.08 52.25 L382.52 50.47 L392.65 48.98 L410 48 M410 356 L383.98 355.02 L368.77 353.53 L356.11 351.75 L344.91 349.76 L334.71 347.59 L325.28 345.27 L316.46 342.81 L308.16 340.23 L300.32 337.53 L292.87 334.73 L285.78 331.84 L279.03 328.85 L272.57 325.78 L266.41 322.63 L260.51 319.41 L254.88 316.11 L249.48 312.75 L244.32 309.32 L239.39 305.83 L234.68 302.28 L230.19 298.68 L225.9 295.02 L221.82 291.32 L217.94 287.57 L214.25 283.77 L210.76 279.93 L207.46 276.06 L204.35 272.14 L201.43 268.19 L198.69 264.21 L196.13 260.2 L193.76 256.16 L191.56 252.09 L189.55 248 L187.71 243.89 L186.05 239.76 L184.57 235.61 L183.26 231.44 L182.13 227.26 L181.17 223.07 L180.39 218.87 L179.78 214.66 L179.35 210.44 L179.09 206.22 L179 202 L179.09 197.78 L179.35 193.56 L179.78 189.34 L180.39 185.13 L181.17 180.93 L182.13 176.74 L183.26 172.56 L184.57 168.39 L186.05 164.24 L187.71 160.11 L189.55 156 L191.56 151.91 L193.76 147.84 L196.13 143.8 L198.69 139.79 L201.43 135.81 L204.35 131.86 L207.46 127.94 L210.76 124.07 L214.25 120.23 L217.94 116.43 L221.82 112.68 L225.9 108.98 L230.19 105.32 L234.68 101.72 L239.39 98.17 L244.32 94.68 L249.48 91.25 L254.88 87.89 L260.51 84.59 L266.41 81.37 L272.57 78.22 L279.03 75.15 L285.78 72.16 L292.87 69.27 L300.32 66.47 L308.16 63.77 L316.46 61.19 L325.28 58.73 L334.71 56.41 L344.91 54.24 L356.11 52.25 L368.77 50.47 L383.98 48.98 L410 48 M210.69 319.5 L609.31 319.5 M128.25 264.5 L691.75 264.5 M102 202.5 L718 202.5 M128.25 140.5 L691.75 140.5 M210.69 85.5 L609.31 85.5" fill="none" stroke="#b0b0b0" stroke-width="1.1"/>
<path d="M437.4 95.6 L441.1 90.75 L446 87 L451.25 85.5 L453.5 83.6 L458 82.5 L465.5 81 L470 80.1 L474.5 80.4 L476 81.3 L485 81.5 L490 82.3 L497.4 83.75 L506.75 85.3 L509.9 85.6 M533 93.4 L540 96.5 L550 100.6 L560 104.5 L572.5 111.25 L585 118.1 L597.5 126.25 L610 135.6 L615 139.8 L622.5 146.5 L625.5 149 L637.5 161.25 L645 172.5 L650 181.25 L654.6 190 L658.1 198.75 L660.6 212.5 L658.1 218.1 L652.5 211.25 L646.25 201.25 L640 190 L632.5 181.25 L625 172.5 L612.5 157.5 L603.75 150 L597.5 144.4 L585 134.4 L572.5 125.6 L560 118.75 L550 114 L537.5 108.75 L525 103.5 L512.5 99.4 L500 96.4 L490 94.4 L485 93.4 L477.5 92.6 L470 92.4 L468.5 93.4 L462.5 93.4 L461 94.3 L458 94.3 L455 93.75 L449.75 95.25 L445.25 96.4 L443 96 L439.25 96.4 L437.4 95.6 M494.25 88.1 L500.5 89.3 L506.75 90.8 L513 92.2 L518 93.5 L523 95 L528 96.6 L533 98.3 L538 100.3 L550 104.2 L560 108.1 L572.5 115 L585 122.5 L595 128.75 L601.25 133.4 L607.5 138.1 L612.5 143.1 L615.6 145.6 L621.9 151.9 L627.5 157.8 L631.25 161.75 L633.75 166.1 L636.25 171.1 L638.75 175.5 L641.25 179.3 L638.75 177.4 L635.6 173.6 L631.9 169.9 L627.5 165.5 L623.5 162.2 L618.75 157.5 L612.5 151.9 L606.25 146.25 L600.6 141.5 L595 137.2 M576 124.6 L572.5 122.5 L560 115.6 L550 110.3 L538 104.4 L531.75 101.6 L525.5 98.75 L519.25 96.6 L513 94.4 L506.75 92.5 L500.5 90.6 L494.25 88.1 M369.4 184 L370 187.5 L369.4 193.75 L368.1 201.25 L365 210 L362.5 220 L360 230 L357.8 240 L355 252.5 L351.9 265 L349.4 277.5 L347.5 285 L345.6 295 L343.75 305 L343.4 310 L343.1 313 L341.6 316.75 L340 321.1 L338.75 325.5 L337.5 329.25 L335 330.5 L331.9 331.75 L330.9 333 L327.5 334.25 L325 335.8 L321.25 336.4 L313.75 336.75 L300 336.4 L295 335.5 L290 334.9 L282.5 333.5 L270 331.25 L257.5 328.1 L245 324.4 L237.5 322.5 L242.5 321.25 L251.25 322.5 L261.25 323.1 L262.5 324.4 L268.1 324.4 M293.1 323.6 L295 322.3 L297.5 322 L298.1 320.1 L301.9 319.2 L303.4 317 L305 315.8 L307.5 313.75 L311.25 308.75 L312.5 307.5 L316.25 300 L319.4 292.5 L321.25 287.5 L325.2 276.25 L329.2 263.75 L333.2 252.5 L336.9 240.5 L340 232.5 L345 222.5 L350 212.5 L355.3 202.5 L357.8 199.4 L360.6 195 L363.2 191.3 L369.4 184 M353.5 221.9 L353.1 226.25 L351.9 236.25 L351.25 240 L350 245 L348.75 252.5 L346.25 265 L343.1 277.5 L341.9 285 L340.5 291 L338.1 303 L335.8 309.5 L334.4 313 L332.5 318.6 L330 321.1 L329 322.7 L326.25 323.6 L322.5 326.4 L319.4 328.9 L316.9 329.6 L313.75 328.3 L311.25 328.9 L305 329.6 L303.4 328.6 L308.4 326.4 L309.4 324.9 L308.4 323 L311.25 321.75 L313.75 319.25 L315.6 316.1 L316.25 314.9 M324.4 293.75 L326.5 286 L330 277.5 L334.4 265 L338.75 252.5 L342.6 241.5 L346.25 233.75 L350 227.5 L353.5 221.9" fill="none" stroke="#000" stroke-width="0.7" stroke-linejoin="round"/>
</g>
<path d="M641.5 202.5 L641.5 207.5 M564.5 202.5 L564.5 207.5 M487.5 202.5 L487.5 207.5 M410.5 202.5 L410.5 207.5 M333.5 202.5 L333.5 207.5 M256.5 202.5 L256.5 207.5 M179.5 202.5 L179.5 207.5 M123.25 264.5 L128.55 264.5 M206.19 319.5 L211.19 319.5 M716.9 202.5 L718.6 202.5" fill="none" stroke="#000" stroke-width="1.1"/>
<ellipse cx="410" cy="202" rx="308" ry="154" fill="none" stroke="#000" stroke-width="1.15"/>
<text class="cl" transform="translate(522.1 89.5) rotate(18.7)" text-anchor="middle" y="3.05" font-size="8.33" stroke="#fff" stroke-width="3.3" stroke-linejoin="round" paint-order="stroke fill">90%</text>
<text class="cl" transform="translate(585.6 130) rotate(34.6)" text-anchor="middle" y="3.05" font-size="8.33" stroke="#fff" stroke-width="3.3" stroke-linejoin="round" paint-order="stroke fill">50%</text>
<text class="cl" transform="translate(280.4 324.4) rotate(0)" text-anchor="middle" y="3.05" font-size="8.33" stroke="#fff" stroke-width="3.3" stroke-linejoin="round" paint-order="stroke fill">90%</text>
<text class="cl" transform="translate(320.9 306.5) rotate(-68)" text-anchor="middle" y="3.05" font-size="8.33" stroke="#fff" stroke-width="3.3" stroke-linejoin="round" paint-order="stroke fill">50%</text>
<g>
<text x="187.4" y="74.3" text-anchor="start" letter-spacing="-0.45">60<tspan dy="0.6">°</tspan></text>
<text x="606.6" y="74.3" text-anchor="start" letter-spacing="-0.45">60<tspan dy="0.6">°</tspan></text>
<text x="94.9" y="136.3" text-anchor="start" letter-spacing="-0.45">30<tspan dy="0.6">°</tspan></text>
<text x="695.9" y="131.2" text-anchor="start" letter-spacing="-0.45">30<tspan dy="0.6">°</tspan></text>
<text x="76.6" y="206.3" text-anchor="start" letter-spacing="-0.45">0<tspan dy="0.6">°</tspan></text>
<text x="726" y="192.8" text-anchor="start" letter-spacing="-0.45">0<tspan dy="0.6">°</tspan></text>
<text x="90" y="275.6" text-anchor="start" letter-spacing="-0.45">-30<tspan dy="0.6">°</tspan></text>
<text x="701.9" y="275.6" text-anchor="start" letter-spacing="-0.45">-30<tspan dy="0.6">°</tspan></text>
<text x="185" y="337.5" text-anchor="start" letter-spacing="-0.45">-60<tspan dy="0.6">°</tspan></text>
<text x="606.9" y="337.5" text-anchor="start" letter-spacing="-0.45">-60<tspan dy="0.6">°</tspan></text>
<text x="710.77" y="225.7" letter-spacing="-0.44">0<tspan dx="0.2" dy="-5" font-size="9.72">h</tspan></text>
<text x="633.77" y="225.7" letter-spacing="-0.44">3<tspan dx="0.2" dy="-5" font-size="9.72">h</tspan></text>
<text x="556.77" y="225.7" letter-spacing="-0.44">6<tspan dx="0.2" dy="-5" font-size="9.72">h</tspan></text>
<text x="479.77" y="225.7" letter-spacing="-0.44">9<tspan dx="0.2" dy="-5" font-size="9.72">h</tspan></text>
<text x="397.97" y="225.7" letter-spacing="-0.44">12<tspan dx="0.7" dy="-5" font-size="9.72">h</tspan></text>
<text x="320.97" y="225.7" letter-spacing="-0.44">15<tspan dx="0.7" dy="-5" font-size="9.72">h</tspan></text>
<text x="243.97" y="225.7" letter-spacing="-0.44">18<tspan dx="0.7" dy="-5" font-size="9.72">h</tspan></text>
<text x="166.97" y="225.7" letter-spacing="-0.44">21<tspan dx="0.7" dy="-5" font-size="9.72">h</tspan></text>
<text x="94.77" y="225.7" letter-spacing="-0.44">0<tspan dx="0.2" dy="-5" font-size="9.72">h</tspan></text>
<text x="718.3" y="31.9" text-anchor="end">50% area: 598 deg²</text>
<text x="718.3" y="47.6" text-anchor="end">90% area: 2,018 deg²</text>
</g>
</svg>
</body></html>
